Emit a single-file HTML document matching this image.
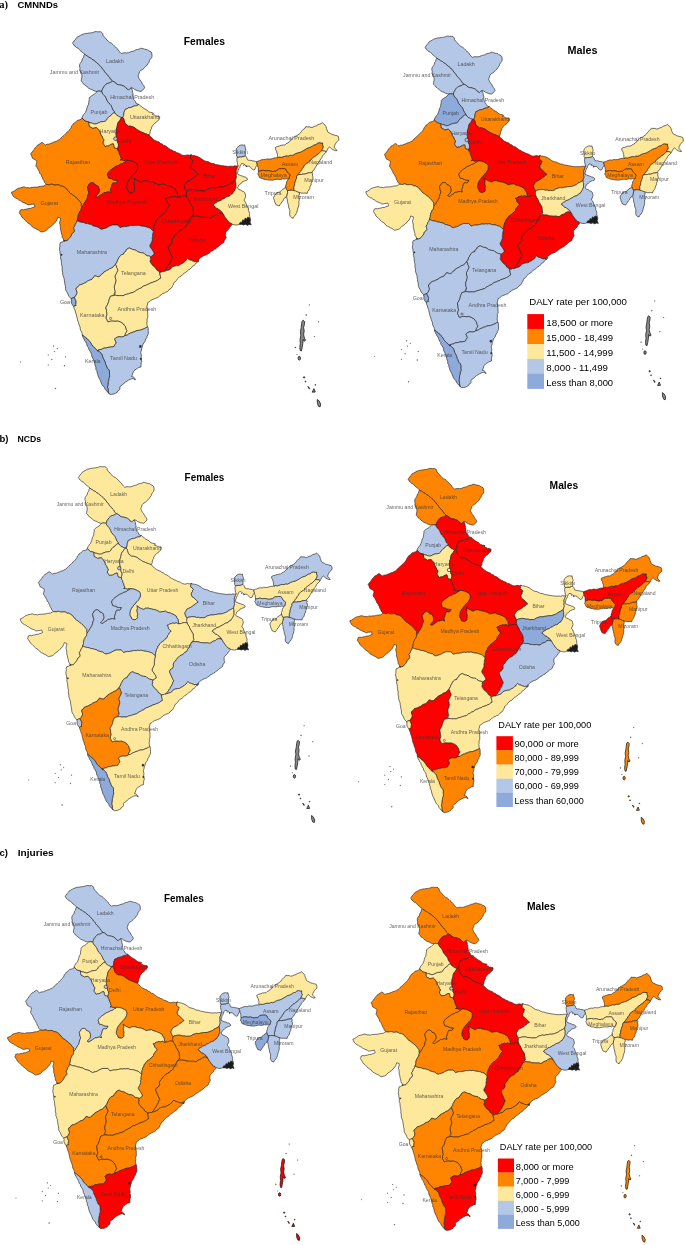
<!DOCTYPE html>
<html lang="en"><head><meta charset="utf-8"><title>DALY rate per 100,000 by state of India</title>
<style>html,body{margin:0;padding:0;background:#fff}svg{display:block}text{font-family:"Liberation Sans","DejaVu Sans",sans-serif}.lb{font-size:5.4px;fill:#383838;fill-opacity:.78}.st{stroke:#262626;stroke-width:.68;stroke-linejoin:round}.hd{font-size:9.5px;font-weight:700;fill:#000}.tt{font-size:11px;font-weight:700;fill:#000}.lg{font-size:9.3px;fill:#000}</style></head><body>
<svg width="685" height="1245" viewBox="0 0 685 1245">
<rect width="685" height="1245" fill="#fff"/>
<defs>
<path id="s-Ladakh" d="M84.8 54.2 L83.4 53.2 L82.1 52.1 L80.0 50.4 L79.0 49.1 L78.0 48.1 L76.3 47.6 L75.0 46.0 L73.9 45.4 L73.4 44.0 L72.4 43.2 L73.3 42.1 L74.7 40.0 L76.0 38.8 L76.8 37.4 L78.1 36.7 L80.3 35.5 L81.9 34.5 L83.9 34.0 L85.3 33.5 L87.2 33.4 L89.2 33.0 L90.7 32.9 L92.6 32.6 L94.9 31.7 L96.5 31.6 L97.9 31.9 L100.4 31.7 L101.6 32.3 L102.6 33.4 L103.0 35.3 L103.8 36.7 L104.7 37.4 L105.9 38.5 L106.9 40.0 L108.2 41.1 L109.7 42.5 L111.3 43.0 L112.9 44.5 L114.2 45.8 L115.5 46.9 L116.6 48.3 L118.2 49.6 L118.7 50.9 L120.0 52.2 L121.3 53.5 L122.9 53.0 L124.9 52.8 L126.4 53.0 L128.6 52.7 L130.3 51.9 L131.8 51.5 L134.1 50.9 L135.9 49.8 L137.4 49.5 L139.0 49.2 L140.6 48.3 L141.8 48.4 L143.5 48.8 L144.6 49.2 L146.1 49.5 L147.6 49.8 L148.4 50.6 L150.0 51.3 L151.2 52.0 L151.7 53.1 L152.0 55.1 L152.0 56.4 L151.6 57.8 L150.4 59.1 L149.4 60.7 L149.1 62.2 L147.8 63.7 L147.1 65.2 L145.6 66.4 L144.7 67.3 L143.9 68.4 L142.5 69.5 L140.5 70.6 L139.6 71.7 L139.0 73.5 L138.6 74.5 L138.1 76.1 L138.9 78.2 L140.0 80.0 L141.0 81.2 L142.1 83.2 L142.8 84.5 L143.8 85.6 L144.7 87.8 L143.5 89.1 L142.5 90.3 L141.0 91.4 L139.6 91.2 L137.7 90.8 L135.9 90.0 L134.6 89.5 L133.4 88.4 L131.5 87.8 L130.0 88.6 L128.6 90.0 L126.8 88.9 L125.4 87.1 L124.2 86.3 L123.1 85.8 L121.5 85.3 L119.7 84.8 L118.4 84.8 L116.4 84.0 L115.9 83.1 L114.0 81.8 L112.5 81.2 L111.2 79.9 L110.3 79.0 L109.6 77.4 L108.2 76.1 L107.2 74.6 L105.9 73.5 L104.6 71.8 L103.8 70.3 L102.3 69.1 L101.5 67.3 L99.6 65.7 L98.7 64.4 L97.0 63.1 L96.4 62.4 L94.5 61.1 L93.6 60.0 L92.0 59.4 L90.5 57.9 L88.5 57.1 L87.6 56.3 L85.6 55.2 L84.8 54.2Z"/>
<path id="s-JK" d="M84.8 54.2 L83.9 55.5 L83.5 57.7 L82.4 58.7 L81.9 60.8 L81.5 61.8 L80.2 63.4 L79.7 64.4 L79.5 66.3 L80.0 68.4 L79.7 70.3 L80.4 71.5 L81.3 73.4 L81.9 75.4 L81.8 77.4 L81.3 79.6 L81.2 81.2 L82.6 82.6 L83.3 83.9 L84.8 84.8 L85.9 85.9 L87.8 87.4 L88.7 88.2 L90.7 89.2 L92.0 89.6 L93.9 90.7 L95.9 91.3 L97.2 91.4 L98.9 91.0 L100.0 91.2 L101.6 91.4 L102.3 89.8 L102.8 88.4 L103.8 87.0 L104.5 85.8 L106.1 84.2 L107.5 83.4 L109.3 83.0 L110.7 82.3 L112.5 81.2 L111.2 79.9 L110.3 79.0 L109.6 77.4 L108.2 76.1 L107.2 74.6 L105.9 73.5 L104.6 71.8 L103.8 70.3 L102.3 69.1 L101.5 67.3 L99.6 65.7 L98.7 64.4 L97.0 63.1 L96.4 62.4 L94.5 61.1 L93.6 60.0 L92.0 59.4 L90.5 57.9 L88.5 57.1 L87.6 56.3 L85.6 55.2 L84.8 54.2Z"/>
<path id="s-HP" d="M112.5 81.2 L114.0 81.8 L115.9 83.1 L116.4 84.0 L118.4 84.8 L119.7 84.8 L121.5 85.3 L123.1 85.8 L124.2 86.3 L125.4 87.1 L126.8 88.9 L128.6 90.0 L130.0 88.6 L131.5 87.8 L131.7 89.0 L132.4 90.6 L132.5 92.2 L133.0 93.6 L133.1 95.9 L133.3 97.0 L133.7 99.5 L134.7 100.6 L135.6 101.9 L135.9 103.1 L137.4 103.9 L138.8 104.4 L137.5 104.6 L135.9 105.8 L134.2 106.0 L133.3 106.4 L131.8 107.2 L130.1 107.6 L128.6 107.7 L127.0 108.8 L125.0 109.5 L124.7 110.6 L123.9 112.7 L123.9 113.9 L123.7 115.4 L122.8 117.5 L121.0 117.5 L119.6 116.8 L118.4 116.3 L116.9 115.2 L115.7 114.3 L114.7 112.8 L114.2 111.2 L113.1 110.3 L112.3 108.7 L111.8 107.3 L111.0 105.5 L109.8 104.3 L108.9 102.9 L107.3 101.4 L106.7 100.0 L106.2 98.6 L105.5 97.2 L104.5 95.8 L103.3 94.6 L102.3 93.2 L101.6 91.4 L102.3 89.8 L102.8 88.4 L103.8 87.0 L104.5 85.8 L106.1 84.2 L107.5 83.4 L109.3 83.0 L110.7 82.3 L112.5 81.2Z"/>
<path id="s-Punjab" d="M97.2 91.4 L96.1 92.4 L94.3 94.3 L92.8 95.1 L91.8 95.7 L90.3 96.8 L89.2 98.0 L89.3 99.4 L89.0 100.9 L88.7 102.8 L88.5 104.6 L87.5 106.0 L87.0 107.8 L86.8 109.0 L86.0 111.0 L85.5 112.4 L84.4 113.6 L83.5 114.7 L82.6 116.3 L81.9 118.1 L83.2 119.0 L84.1 120.2 L85.0 121.0 L87.2 121.6 L88.5 121.9 L90.3 122.9 L91.6 123.0 L93.7 123.8 L95.0 124.1 L96.7 123.8 L98.2 122.9 L99.4 122.6 L100.6 121.9 L102.0 121.7 L103.7 121.5 L105.3 121.2 L106.8 119.8 L107.4 118.5 L108.9 116.8 L110.8 115.7 L111.5 114.5 L113.3 113.1 L114.7 112.8 L114.2 111.2 L113.1 110.3 L112.3 108.7 L111.8 107.3 L111.0 105.5 L109.8 104.3 L108.9 102.9 L107.3 101.4 L106.7 100.0 L106.2 98.6 L105.5 97.2 L104.5 95.8 L103.3 94.6 L102.3 93.2 L101.6 91.4 L100.0 91.2 L98.9 91.0 L97.2 91.4Z"/>
<path id="s-Haryana" d="M88.5 121.9 L88.8 123.1 L88.8 124.8 L89.2 126.3 L90.1 127.0 L91.7 127.6 L92.8 128.5 L94.4 128.0 L96.5 127.7 L97.6 128.6 L98.9 130.3 L99.4 131.4 L100.2 132.4 L100.7 134.2 L101.6 135.8 L102.3 136.8 L102.8 138.6 L103.8 139.4 L103.7 140.9 L103.0 142.1 L103.1 143.8 L104.0 144.8 L105.3 146.7 L106.6 146.1 L108.2 146.1 L109.6 145.3 L111.3 144.3 L113.3 143.8 L113.8 145.4 L113.9 146.6 L114.7 148.2 L116.0 148.5 L117.7 148.9 L118.3 146.9 L118.4 145.8 L118.4 143.8 L117.4 142.2 L117.2 140.7 L116.9 139.4 L116.7 138.1 L116.4 136.4 L116.2 135.0 L115.9 133.3 L116.2 130.9 L116.2 129.2 L116.9 127.7 L117.2 126.2 L117.4 125.1 L117.7 123.4 L118.8 121.6 L119.7 120.7 L120.6 119.0 L121.3 118.0 L122.8 117.5 L121.0 117.5 L119.6 116.8 L118.4 116.3 L116.9 115.2 L115.7 114.3 L114.7 112.8 L113.3 113.1 L111.5 114.5 L110.8 115.7 L108.9 116.8 L107.4 118.5 L106.8 119.8 L105.3 121.2 L103.7 121.5 L102.0 121.7 L100.6 121.9 L99.4 122.6 L98.2 122.9 L96.7 123.8 L95.0 124.1 L93.7 123.8 L91.6 123.0 L90.3 122.9 L88.5 121.9Z"/>
<path id="s-UK" d="M138.8 104.4 L140.1 105.6 L141.8 106.9 L143.2 108.0 L144.9 109.0 L146.6 109.8 L147.6 111.0 L148.7 111.8 L150.4 112.4 L152.0 112.7 L153.4 113.1 L152.4 114.6 L154.4 115.0 L155.8 116.0 L157.5 116.2 L159.7 116.8 L159.6 118.2 L159.0 119.7 L157.8 120.5 L156.0 122.6 L154.6 123.4 L153.3 124.6 L152.7 125.6 L151.7 127.0 L151.5 128.6 L150.8 129.6 L150.2 131.4 L150.1 133.0 L149.1 135.0 L147.3 134.4 L146.0 133.9 L144.6 133.4 L143.2 132.8 L141.4 132.0 L140.2 131.7 L138.8 130.6 L137.4 129.9 L136.2 129.0 L134.4 127.5 L133.0 127.0 L131.7 126.5 L130.0 126.1 L128.6 126.3 L127.1 125.1 L125.7 124.1 L124.6 122.3 L124.2 120.4 L123.7 118.8 L122.8 117.5 L123.7 115.4 L123.9 113.9 L123.9 112.7 L124.7 110.6 L125.0 109.5 L127.0 108.8 L128.6 107.7 L130.1 107.6 L131.8 107.2 L133.3 106.4 L134.2 106.0 L135.9 105.8 L137.4 105.5 L138.8 104.4Z"/>
<path id="s-UP" d="M122.8 117.5 L123.7 118.8 L124.2 120.4 L124.6 122.3 L125.7 124.1 L127.1 125.1 L128.6 126.3 L130.0 126.1 L131.7 126.5 L133.0 127.0 L134.4 127.5 L136.2 129.0 L137.4 129.9 L138.8 130.6 L140.2 131.7 L141.4 132.0 L143.2 132.8 L144.6 133.4 L146.0 133.9 L147.3 134.4 L149.1 135.0 L150.0 136.3 L151.7 137.6 L153.3 139.4 L154.6 140.2 L155.8 140.7 L157.4 141.5 L159.1 142.0 L160.2 143.4 L161.9 143.8 L163.7 145.4 L165.4 145.8 L167.0 147.0 L168.5 148.2 L170.3 149.5 L171.7 149.9 L173.2 151.0 L175.3 151.6 L176.5 152.6 L178.7 153.2 L179.9 153.7 L181.7 154.9 L183.8 155.5 L185.3 155.4 L187.1 154.9 L189.4 155.3 L191.1 154.7 L190.7 156.2 L190.4 158.4 L191.7 159.4 L192.5 160.0 L193.3 161.3 L192.3 162.2 L192.3 163.6 L191.1 165.0 L191.2 167.2 L191.8 168.6 L192.9 169.2 L194.0 170.2 L195.5 171.5 L196.5 172.6 L197.5 173.7 L198.4 174.4 L196.6 175.4 L195.5 176.6 L193.9 177.5 L192.2 178.9 L191.1 179.6 L189.8 180.5 L188.2 181.1 L186.7 181.8 L185.9 183.1 L185.4 184.2 L184.5 185.4 L184.5 186.9 L185.3 189.1 L185.6 190.0 L186.7 191.2 L186.6 192.8 L187.1 195.0 L186.7 196.3 L185.3 196.2 L184.0 196.1 L182.3 196.3 L180.9 196.9 L179.3 197.1 L178.0 197.5 L177.8 196.3 L177.5 194.7 L177.1 192.8 L175.8 191.0 L175.3 189.3 L173.6 188.3 L171.9 187.2 L170.1 186.6 L169.0 186.0 L166.6 185.4 L165.0 184.8 L163.9 184.0 L162.7 184.3 L160.7 184.5 L159.1 185.0 L157.8 184.9 L156.1 183.7 L154.8 183.2 L152.6 182.3 L151.0 182.2 L149.6 181.8 L147.5 181.4 L146.4 180.9 L144.7 180.9 L143.0 181.0 L141.4 182.1 L140.1 182.0 L138.3 181.2 L136.6 180.3 L135.0 179.2 L134.0 178.3 L134.4 179.2 L134.5 180.3 L134.6 181.4 L134.0 183.0 L134.4 185.3 L134.9 186.7 L134.6 188.0 L134.5 189.7 L134.8 190.8 L133.3 192.5 L131.9 193.1 L129.7 192.8 L128.4 192.0 L128.0 190.3 L126.9 189.0 L126.6 187.9 L126.5 186.7 L127.0 184.6 L127.2 183.2 L128.2 181.2 L129.0 179.7 L130.0 179.0 L130.7 177.4 L132.3 176.3 L132.8 175.0 L134.2 173.9 L135.2 172.8 L136.0 171.6 L136.6 170.4 L137.4 169.1 L137.7 166.9 L137.6 165.4 L136.6 163.4 L134.4 162.4 L133.1 161.6 L131.1 160.9 L129.0 160.5 L127.2 160.4 L125.1 160.2 L124.0 160.7 L121.7 159.8 L120.2 160.1 L121.4 158.7 L120.5 156.7 L120.2 155.2 L119.4 153.9 L119.0 151.7 L118.2 150.7 L117.7 148.9 L117.9 147.4 L118.5 145.9 L118.4 143.8 L117.4 142.2 L117.2 140.7 L116.9 139.4 L116.7 138.1 L116.4 136.4 L116.2 135.0 L115.9 133.3 L116.2 130.9 L116.2 129.2 L116.9 127.7 L117.2 126.2 L117.4 125.1 L117.7 123.4 L118.8 121.6 L119.7 120.7 L120.6 119.0 L121.3 118.0 L122.8 117.5Z"/>
<path id="s-Bihar" d="M191.1 154.7 L192.5 155.4 L194.2 155.6 L195.4 155.9 L196.9 156.2 L198.3 156.9 L200.3 157.9 L201.7 159.0 L202.8 159.8 L204.3 160.7 L206.7 161.4 L208.0 161.6 L210.1 162.8 L211.9 163.5 L213.4 163.5 L215.6 164.4 L216.8 164.7 L218.8 165.0 L220.5 165.4 L222.7 165.7 L224.3 165.9 L225.5 166.1 L227.6 166.4 L229.7 166.3 L231.5 166.2 L232.9 166.4 L234.7 165.8 L236.3 166.0 L238.3 165.8 L237.4 167.2 L237.2 168.3 L236.3 170.2 L236.2 171.5 L236.4 173.2 L236.2 175.3 L236.6 176.8 L236.0 178.6 L235.4 180.5 L234.2 181.3 L232.7 182.2 L231.3 182.9 L229.7 183.8 L228.5 184.8 L227.2 185.4 L224.9 186.3 L223.4 186.8 L221.5 187.0 L219.2 187.1 L218.2 187.4 L215.9 187.6 L213.7 188.2 L211.7 187.9 L210.1 188.5 L208.7 188.8 L207.1 189.5 L205.6 190.6 L204.2 191.0 L201.9 190.9 L200.2 191.1 L198.4 190.5 L196.6 190.7 L194.8 190.0 L192.6 189.8 L191.2 189.9 L189.8 190.2 L187.9 190.6 L186.7 191.2 L186.0 190.1 L185.3 189.1 L184.5 186.9 L184.5 185.4 L185.4 184.2 L185.9 183.1 L186.7 181.8 L188.2 181.1 L189.8 180.5 L191.1 179.6 L192.2 178.9 L193.9 177.5 L195.5 176.6 L196.6 175.4 L198.4 174.4 L197.5 173.7 L196.5 172.6 L195.5 171.5 L194.0 170.2 L192.9 169.2 L191.8 168.6 L191.2 167.2 L191.1 165.0 L192.3 163.6 L192.3 162.2 L193.3 161.3 L192.5 160.0 L191.7 159.4 L190.4 158.4 L190.7 156.2 L191.1 154.7Z"/>
<path id="s-Jharkhand" d="M186.7 191.2 L186.3 193.1 L186.3 194.9 L186.7 196.3 L187.2 197.8 L188.8 200.2 L189.3 201.5 L189.8 202.9 L190.8 204.3 L191.7 205.9 L192.8 207.7 L193.0 209.0 L193.2 210.6 L193.3 212.2 L193.7 213.8 L192.9 215.1 L192.2 215.9 L191.1 217.3 L192.8 216.5 L194.0 216.0 L195.7 216.3 L197.2 216.2 L199.0 216.5 L200.5 217.2 L202.2 217.2 L203.2 217.4 L205.0 217.5 L207.0 217.4 L208.0 217.4 L210.0 218.0 L212.1 217.3 L213.0 216.1 L215.0 215.5 L216.4 215.0 L217.6 213.8 L219.6 213.0 L221.8 213.2 L223.3 214.0 L222.1 212.5 L221.2 211.9 L220.4 210.4 L219.1 209.7 L218.3 208.7 L216.7 208.2 L215.3 207.2 L214.6 206.1 L213.1 205.3 L214.0 204.0 L215.3 203.1 L216.5 202.7 L217.9 201.4 L219.6 200.9 L221.0 200.4 L222.2 199.3 L224.0 198.7 L225.5 197.6 L226.9 196.8 L228.4 196.5 L229.8 195.9 L231.0 194.3 L232.8 193.6 L233.2 192.6 L234.4 191.0 L235.0 189.9 L235.4 188.7 L236.0 187.3 L235.9 185.4 L236.0 183.9 L235.7 182.5 L235.4 180.5 L234.2 181.3 L232.7 182.2 L231.3 182.9 L229.7 183.8 L228.5 184.8 L227.2 185.4 L224.9 186.3 L223.4 186.8 L221.5 187.0 L219.2 187.1 L218.2 187.4 L215.9 187.6 L213.7 188.2 L211.7 187.9 L210.1 188.5 L208.7 188.8 L207.1 189.5 L205.6 190.6 L204.2 191.0 L201.9 190.9 L200.2 191.1 L198.4 190.5 L196.6 190.7 L194.8 190.0 L192.6 189.8 L191.2 189.9 L189.8 190.2 L187.9 190.6 L186.7 191.2Z"/>
<path id="s-Chh" d="M178.0 197.5 L176.8 197.0 L175.3 196.3 L173.2 197.0 L171.8 196.5 L170.1 197.2 L168.8 197.4 L167.1 198.7 L165.7 198.9 L166.7 200.2 L167.4 202.4 L168.5 203.8 L170.1 205.0 L169.0 206.2 L168.0 207.1 L167.4 208.5 L166.2 209.8 L166.0 211.2 L164.8 212.9 L163.2 213.9 L161.8 215.6 L160.4 216.4 L159.1 217.3 L158.3 218.2 L157.1 220.2 L156.1 220.8 L155.8 222.5 L154.6 224.5 L154.3 226.1 L153.7 227.5 L153.6 229.7 L153.4 231.3 L153.1 232.6 L152.5 234.7 L152.6 236.6 L152.1 238.0 L152.4 239.8 L151.7 241.8 L151.2 243.0 L150.0 245.0 L149.9 246.2 L150.6 247.8 L151.8 249.2 L152.6 250.6 L153.6 252.1 L154.3 254.1 L152.8 255.1 L152.3 255.8 L150.8 256.7 L150.2 258.1 L150.6 259.5 L149.9 261.1 L150.6 262.7 L151.7 264.3 L152.6 265.5 L153.9 266.6 L155.3 267.7 L156.1 269.0 L157.0 270.3 L158.8 271.2 L159.6 272.5 L160.8 272.0 L162.6 272.1 L163.9 271.6 L165.4 270.1 L166.6 268.7 L167.4 267.2 L168.7 265.7 L169.4 264.0 L170.1 262.9 L171.3 260.8 L171.4 259.6 L172.7 257.6 L171.8 256.0 L171.0 254.1 L170.1 252.3 L169.5 250.8 L168.6 248.9 L168.3 247.1 L169.4 245.5 L170.9 244.8 L171.8 243.6 L172.4 242.0 L172.2 240.1 L172.7 238.3 L174.4 236.7 L175.4 235.1 L176.2 233.9 L177.3 233.0 L179.1 231.1 L180.6 230.4 L182.3 229.7 L182.8 228.8 L184.6 227.3 L185.8 226.9 L186.7 225.7 L187.3 224.2 L188.5 222.6 L189.4 220.6 L190.3 219.5 L191.1 217.3 L192.2 215.9 L192.9 215.1 L193.7 213.8 L193.3 212.2 L193.2 210.6 L193.0 209.0 L192.8 207.7 L191.7 205.9 L190.8 204.3 L189.8 202.9 L189.3 201.5 L188.8 200.2 L187.2 197.8 L186.7 196.3 L185.3 196.2 L184.0 196.1 L182.3 196.3 L180.9 196.9 L179.3 197.1 L178.0 197.5Z"/>
<path id="s-Odisha" d="M163.9 271.6 L165.3 271.1 L167.8 270.3 L169.2 269.9 L170.7 269.0 L172.1 267.1 L173.6 266.4 L175.2 266.0 L176.8 265.6 L178.8 265.5 L180.0 264.6 L181.8 263.7 L183.2 262.9 L184.1 262.0 L185.8 260.8 L186.1 259.8 L187.6 258.5 L189.5 259.9 L191.4 260.3 L192.8 261.1 L195.0 261.6 L196.0 261.4 L198.1 262.0 L198.4 260.8 L198.5 259.8 L199.7 258.6 L200.8 257.4 L202.8 256.3 L204.8 255.3 L206.9 254.6 L208.1 253.7 L209.8 252.7 L210.6 251.5 L212.1 250.9 L213.4 250.2 L214.3 249.3 L216.0 248.7 L217.1 247.3 L218.6 246.6 L219.6 245.4 L221.2 244.1 L222.2 243.5 L223.9 242.3 L224.3 240.6 L225.5 238.7 L226.2 237.4 L225.5 235.8 L225.6 234.8 L225.5 233.0 L226.1 231.7 L227.7 230.1 L229.3 228.5 L229.8 227.2 L231.4 225.5 L232.0 224.2 L231.2 223.2 L229.6 222.8 L228.4 221.3 L227.2 220.0 L226.4 218.8 L225.5 217.7 L224.6 216.4 L224.1 215.3 L223.3 214.0 L221.2 213.1 L219.6 213.0 L217.6 213.8 L216.4 215.0 L215.0 215.5 L213.0 216.1 L212.1 217.3 L210.0 218.0 L208.0 217.4 L207.0 217.4 L205.0 217.5 L203.2 217.4 L202.2 217.2 L200.5 217.2 L199.0 216.5 L197.2 216.2 L195.7 216.3 L194.0 216.0 L192.8 216.5 L191.1 217.3 L190.3 219.5 L189.4 220.6 L188.5 222.6 L187.3 224.2 L186.7 225.7 L185.8 226.9 L184.6 227.3 L182.8 228.8 L182.3 229.7 L180.6 230.4 L179.1 231.1 L177.3 233.0 L176.2 233.9 L175.4 235.1 L174.4 236.7 L172.7 238.3 L172.2 240.1 L172.4 242.0 L171.8 243.6 L170.9 244.8 L169.4 245.5 L168.3 247.1 L168.6 248.9 L169.5 250.8 L170.1 252.3 L171.0 254.1 L171.8 256.0 L172.7 257.6 L171.4 259.6 L171.3 260.8 L170.1 262.9 L169.4 264.0 L168.7 265.7 L167.4 267.2 L166.6 268.7 L165.4 270.1 L163.9 271.6Z"/>
<path id="s-MP" d="M127.2 160.4 L126.0 161.6 L124.6 161.9 L123.7 162.8 L122.1 163.8 L120.3 164.1 L119.0 165.1 L117.5 165.7 L116.0 166.2 L114.4 167.4 L112.4 168.8 L111.0 169.8 L109.7 170.9 L108.6 172.2 L108.0 173.0 L107.4 174.4 L108.1 176.1 L108.5 178.0 L110.2 178.5 L111.6 178.7 L113.2 179.7 L114.8 180.1 L115.9 180.2 L117.9 180.3 L117.2 181.6 L116.7 182.6 L115.3 183.2 L114.2 182.9 L112.6 183.2 L111.8 185.3 L111.5 186.7 L110.8 188.9 L110.3 190.2 L110.9 191.6 L110.9 192.6 L108.8 191.9 L107.4 192.0 L105.4 192.7 L103.9 192.6 L102.9 193.7 L101.0 194.9 L99.9 195.6 L98.8 196.4 L97.5 197.2 L96.7 196.8 L95.7 196.1 L96.8 195.1 L97.7 194.2 L98.6 193.1 L99.0 192.1 L99.3 190.6 L99.2 189.1 L98.7 187.7 L98.0 186.1 L96.8 185.5 L95.1 185.0 L94.5 183.8 L92.8 182.6 L91.0 182.8 L89.3 183.8 L88.8 185.1 L87.5 186.7 L87.7 188.1 L88.1 190.2 L88.8 192.1 L88.7 193.7 L87.9 195.0 L87.5 197.2 L86.8 199.5 L85.8 200.7 L85.1 202.1 L84.0 203.7 L83.5 204.9 L82.7 205.8 L81.7 207.2 L81.3 208.4 L81.1 210.1 L79.7 211.7 L79.3 213.0 L78.4 214.3 L78.2 215.9 L77.9 217.1 L78.0 218.0 L77.6 219.2 L77.1 220.7 L79.0 221.6 L80.3 222.1 L82.3 222.4 L84.3 222.8 L85.6 223.5 L87.7 223.6 L89.3 224.2 L91.3 224.6 L93.1 225.9 L94.9 226.3 L96.3 226.8 L98.1 227.2 L99.8 228.5 L101.6 229.4 L102.9 228.9 L104.8 228.4 L106.9 227.7 L108.1 226.8 L109.9 226.0 L112.1 225.0 L113.6 225.0 L115.5 225.0 L117.4 225.0 L119.0 226.4 L120.0 227.7 L121.6 227.1 L122.8 226.9 L124.3 226.5 L125.7 226.7 L127.5 226.3 L128.9 226.1 L130.5 225.6 L132.0 225.5 L133.6 225.7 L135.0 225.2 L136.4 225.6 L137.9 225.3 L139.6 225.4 L141.2 226.1 L142.7 226.2 L144.9 226.5 L146.4 226.9 L148.1 227.6 L149.4 227.9 L150.8 228.7 L152.2 230.3 L153.4 231.3 L153.6 229.7 L153.7 227.5 L154.3 226.1 L154.6 224.5 L155.8 222.5 L156.1 220.8 L157.1 220.2 L158.3 218.2 L159.1 217.3 L160.4 216.4 L161.8 215.6 L163.2 213.9 L164.8 212.9 L166.0 211.2 L166.2 209.8 L167.4 208.5 L168.0 207.1 L169.0 206.2 L170.1 205.0 L168.5 203.8 L167.4 202.4 L166.7 200.2 L165.7 198.9 L167.1 198.7 L168.8 197.4 L170.1 197.2 L171.8 196.5 L173.2 197.0 L175.3 196.3 L176.8 197.0 L178.0 197.5 L177.8 196.3 L177.5 194.7 L177.1 192.8 L175.8 191.0 L175.3 189.3 L173.6 188.3 L171.9 187.2 L170.1 186.6 L169.0 186.0 L166.6 185.4 L165.0 184.8 L163.9 184.0 L162.7 184.3 L160.7 184.5 L159.1 185.0 L157.8 184.9 L156.1 183.7 L154.8 183.2 L152.6 182.3 L151.0 182.2 L149.6 181.8 L147.5 181.4 L146.4 180.9 L144.7 180.9 L143.0 181.0 L141.4 182.1 L140.1 182.0 L138.3 181.2 L136.6 180.3 L135.0 179.2 L134.0 178.3 L134.4 179.2 L134.5 180.3 L134.6 181.4 L134.0 183.0 L134.4 185.3 L134.9 186.7 L134.6 188.0 L134.5 189.7 L134.8 190.8 L133.3 192.5 L131.9 193.1 L129.7 192.8 L128.4 192.0 L128.0 190.3 L126.9 189.0 L126.6 187.9 L126.5 186.7 L127.0 184.6 L127.2 183.2 L128.2 181.2 L129.0 179.7 L130.0 179.0 L130.7 177.4 L132.3 176.3 L132.8 175.0 L134.2 173.9 L135.2 172.8 L136.0 171.6 L136.6 170.4 L137.4 169.1 L137.7 166.9 L137.6 165.4 L136.6 163.4 L134.4 162.4 L133.1 161.6 L131.1 160.9 L129.0 160.5 L127.2 160.4Z"/>
<path id="s-Raj" d="M81.5 119.1 L79.9 119.8 L78.2 120.2 L77.1 120.5 L75.8 121.8 L74.8 122.9 L73.3 123.7 L72.7 124.9 L71.7 125.8 L71.1 127.5 L70.3 128.7 L69.2 130.2 L68.0 131.5 L67.0 132.3 L65.7 133.6 L64.8 134.5 L64.0 135.4 L62.5 136.6 L61.3 137.6 L60.4 138.9 L59.1 139.9 L57.6 140.5 L56.1 141.5 L53.8 142.0 L52.9 142.6 L50.8 143.3 L49.5 144.0 L47.0 144.2 L45.5 145.0 L44.6 144.4 L43.6 143.4 L42.0 142.4 L40.8 143.1 L39.0 144.5 L37.7 145.0 L36.4 146.6 L35.1 147.9 L34.2 149.4 L32.9 151.1 L32.0 152.2 L30.7 153.8 L31.4 155.3 L31.9 156.7 L32.4 158.2 L34.0 159.1 L35.2 159.8 L36.8 160.8 L36.7 162.6 L36.1 164.7 L35.9 166.1 L36.9 167.4 L38.0 169.1 L38.5 170.4 L39.4 171.7 L39.8 173.4 L41.2 174.8 L41.8 176.6 L42.4 177.3 L42.9 179.2 L44.0 180.7 L44.3 182.1 L45.5 183.6 L46.4 184.4 L48.0 184.6 L49.5 184.8 L51.1 184.1 L52.6 184.4 L54.1 185.0 L55.7 185.0 L57.6 184.7 L59.6 185.3 L60.8 186.2 L62.6 186.2 L64.1 187.1 L65.7 188.0 L66.8 189.7 L68.1 190.6 L69.2 192.3 L70.7 193.7 L72.6 194.6 L73.6 195.8 L75.5 196.9 L76.8 198.4 L78.0 199.3 L79.2 200.8 L80.2 202.1 L81.5 203.7 L81.2 205.3 L81.7 207.2 L82.7 205.8 L83.5 204.9 L84.0 203.7 L85.1 202.1 L85.8 200.7 L86.8 199.5 L87.5 197.2 L87.9 195.0 L88.7 193.7 L88.8 192.1 L88.1 190.2 L87.7 188.1 L87.5 186.7 L88.8 185.1 L89.3 183.8 L91.0 182.8 L92.8 182.6 L94.5 183.8 L95.1 185.0 L96.8 185.5 L98.0 186.1 L98.7 187.7 L99.2 189.1 L99.3 190.6 L99.0 192.1 L98.6 193.1 L97.7 194.2 L96.8 195.1 L95.7 196.1 L96.7 196.8 L97.5 197.2 L98.8 196.4 L99.9 195.6 L101.0 194.9 L102.9 193.7 L103.9 192.6 L105.4 192.7 L107.4 192.0 L108.8 191.9 L110.9 192.6 L110.9 191.6 L110.3 190.2 L110.8 188.9 L111.5 186.7 L111.8 185.3 L112.6 183.2 L114.2 182.9 L115.3 183.2 L116.7 182.6 L117.2 181.6 L117.9 180.3 L115.9 180.2 L114.8 180.1 L113.2 179.7 L111.6 178.7 L110.2 178.5 L108.5 178.0 L108.1 176.1 L107.4 174.4 L108.0 173.0 L108.6 172.2 L109.7 170.9 L111.0 169.8 L112.4 168.8 L114.4 167.4 L116.0 166.2 L117.5 165.7 L119.0 165.1 L120.3 164.1 L122.1 163.8 L123.7 162.8 L124.6 161.9 L126.0 161.6 L127.2 160.4 L125.1 160.2 L124.0 160.7 L121.7 159.8 L120.2 160.1 L121.4 158.7 L120.5 156.7 L120.2 155.2 L119.4 153.9 L119.0 151.7 L118.2 150.7 L117.7 148.9 L116.0 148.2 L114.7 148.2 L113.9 146.6 L113.8 145.4 L113.3 143.8 L111.3 144.3 L109.6 145.3 L108.2 146.1 L106.6 146.1 L105.3 146.7 L104.0 144.8 L103.1 143.8 L103.0 142.1 L103.7 140.9 L103.8 139.4 L102.8 138.6 L102.3 136.8 L101.6 135.8 L100.7 134.2 L100.2 132.4 L99.4 131.4 L98.9 130.3 L97.6 128.6 L96.5 127.7 L94.4 128.0 L92.8 128.5 L91.7 127.6 L90.1 127.0 L89.2 126.3 L88.8 124.8 L88.8 123.1 L88.5 121.9 L87.2 121.6 L85.0 121.0 L84.1 120.2 L83.2 119.0 L81.9 118.1Z"/>
<path id="s-Gujarat" d="M46.4 184.4 L45.3 184.9 L43.8 185.9 L42.0 186.2 L40.2 186.4 L39.2 186.6 L37.5 187.1 L35.9 187.1 L34.3 187.3 L32.5 187.3 L31.1 187.4 L29.8 188.0 L27.6 187.6 L26.6 187.7 L24.2 186.9 L22.8 187.1 L20.7 187.8 L19.3 188.0 L17.4 188.7 L16.0 189.7 L14.9 190.6 L13.2 191.6 L11.4 192.3 L11.9 193.8 L12.7 195.2 L13.1 196.1 L14.5 197.2 L16.2 198.4 L17.5 198.8 L18.9 200.1 L20.4 200.6 L21.5 201.6 L22.8 202.3 L24.2 202.9 L26.8 204.0 L28.0 204.9 L29.9 204.7 L31.1 204.4 L32.7 204.2 L34.2 204.0 L34.5 205.1 L35.0 206.6 L33.3 207.4 L32.0 207.7 L30.7 208.4 L29.1 208.4 L26.8 209.1 L25.4 209.3 L23.3 209.9 L22.0 209.5 L20.1 210.2 L19.9 211.3 L19.3 212.8 L20.2 214.1 L21.3 215.7 L21.9 217.2 L23.2 218.4 L24.1 219.1 L25.3 220.3 L26.3 221.5 L27.6 222.8 L29.2 223.8 L30.3 224.4 L31.5 225.9 L32.5 227.0 L33.8 227.8 L35.5 228.6 L36.8 229.4 L38.5 230.1 L40.1 231.3 L41.2 232.0 L43.3 231.5 L45.1 231.1 L46.4 230.3 L47.6 229.2 L48.7 227.8 L50.2 227.0 L51.7 225.9 L52.9 224.5 L54.0 223.8 L54.8 222.4 L56.1 221.5 L56.8 219.9 L57.3 218.9 L57.8 217.2 L59.3 217.7 L60.4 218.0 L60.4 220.1 L59.8 221.7 L59.6 223.3 L60.1 224.4 L60.4 226.5 L60.4 227.7 L60.4 229.4 L61.0 230.8 L61.3 232.9 L61.7 234.3 L62.1 235.5 L62.2 237.3 L63.4 238.9 L63.9 240.8 L66.0 240.8 L67.5 240.4 L68.1 239.6 L69.2 238.3 L70.1 237.3 L71.3 235.7 L71.8 233.8 L73.3 232.8 L74.5 231.2 L74.1 229.2 L73.6 227.7 L75.0 225.7 L75.3 224.2 L76.5 222.7 L77.1 220.7 L77.6 219.2 L78.0 218.0 L77.9 217.1 L78.2 215.9 L78.4 214.3 L79.3 213.0 L79.7 211.7 L81.1 210.1 L81.3 208.4 L81.7 207.2 L81.2 205.3 L81.5 203.7 L80.2 202.1 L79.2 200.8 L78.0 199.3 L76.8 198.4 L75.5 196.9 L73.6 195.8 L72.6 194.6 L70.7 193.7 L69.2 192.3 L68.1 190.6 L66.8 189.7 L65.7 188.0 L64.1 187.1 L62.6 186.2 L60.8 186.2 L59.6 185.3 L57.6 184.7 L55.7 185.0 L54.1 185.0 L52.6 184.4 L51.1 184.1 L49.5 184.8 L48.0 184.6 L46.4 184.4Z"/>
<path id="s-Mah" d="M63.9 240.8 L62.0 242.2 L60.4 242.6 L59.8 244.7 L59.9 246.4 L59.6 247.8 L59.4 249.5 L60.0 251.6 L60.0 252.7 L60.4 254.8 L60.6 256.4 L60.5 258.0 L61.2 260.1 L61.3 261.8 L61.5 263.7 L61.7 265.4 L62.1 266.6 L62.2 268.8 L62.1 270.2 L62.7 272.4 L62.6 274.4 L63.1 275.8 L63.8 277.8 L64.2 278.9 L64.4 280.9 L64.8 282.9 L64.9 284.4 L65.4 286.1 L65.6 288.3 L65.7 289.9 L66.3 291.3 L67.5 293.1 L68.3 295.1 L69.2 296.6 L70.2 297.7 L71.0 298.6 L72.3 298.1 L74.5 297.2 L75.5 296.1 L76.7 293.9 L77.1 292.5 L76.7 291.0 L76.1 289.5 L76.2 288.1 L77.8 287.1 L78.8 285.5 L79.9 284.8 L82.1 284.3 L83.2 283.7 L84.8 282.9 L86.0 282.4 L87.6 281.1 L89.1 280.3 L90.6 279.9 L92.0 279.3 L92.7 278.0 L93.7 277.4 L94.6 275.8 L96.3 276.1 L97.3 276.7 L99.0 276.7 L100.8 275.3 L101.6 274.1 L103.1 273.4 L103.8 272.1 L105.1 271.5 L106.6 270.6 L108.0 270.0 L109.5 268.8 L111.8 268.0 L113.0 267.1 L114.2 265.3 L115.6 264.4 L116.0 263.2 L117.1 261.4 L117.5 260.2 L118.3 259.0 L119.0 257.5 L120.2 255.8 L121.4 254.8 L123.7 254.1 L124.3 252.3 L125.8 251.3 L126.3 249.7 L128.3 248.4 L129.8 248.0 L131.0 248.8 L132.7 249.5 L134.2 249.7 L136.2 250.5 L137.8 251.7 L139.4 252.3 L141.1 252.8 L142.5 252.8 L143.8 253.2 L144.8 254.2 L145.8 254.9 L147.3 255.8 L149.1 256.0 L150.8 256.7 L152.3 255.8 L152.8 255.1 L154.3 254.1 L153.6 252.1 L152.6 250.6 L151.8 249.2 L150.6 247.8 L149.9 246.2 L150.0 245.0 L151.2 243.0 L151.7 241.8 L152.4 239.8 L152.1 238.0 L152.6 236.6 L152.5 234.7 L153.1 232.6 L153.4 231.3 L152.2 230.3 L150.8 228.7 L149.4 227.9 L148.1 227.6 L146.4 226.9 L144.9 226.5 L142.7 226.2 L141.2 226.1 L139.6 225.4 L137.9 225.3 L136.4 225.6 L135.0 225.2 L133.6 225.7 L132.0 225.5 L130.5 225.6 L128.9 226.1 L127.5 226.3 L125.7 226.7 L124.3 226.5 L122.8 226.9 L121.6 227.1 L120.0 227.7 L119.0 226.4 L117.4 225.0 L115.5 225.0 L113.6 225.0 L112.1 225.0 L109.9 226.0 L108.1 226.8 L106.9 227.7 L104.8 228.4 L102.9 228.9 L101.6 229.4 L99.8 228.5 L98.1 227.2 L96.3 226.8 L94.9 226.3 L93.1 225.9 L91.3 224.6 L89.3 224.2 L87.7 223.6 L85.6 223.5 L84.3 222.8 L82.3 222.4 L80.3 222.1 L79.0 221.6 L77.1 220.7 L76.5 222.7 L75.3 224.2 L75.0 225.7 L73.6 227.7 L74.1 229.2 L74.5 231.2 L73.3 232.8 L71.8 233.8 L71.3 235.7 L70.1 237.3 L69.2 238.3 L68.1 239.6 L67.5 240.4 L66.0 240.8 L63.9 240.8Z"/>
<path id="s-Goa" d="M71.0 298.6 L71.4 300.2 L71.2 302.1 L71.8 303.9 L72.4 304.9 L73.6 306.5 L75.1 305.7 L76.2 305.6 L75.8 304.4 L76.1 302.4 L76.2 301.2 L75.4 299.7 L74.9 298.4 L74.5 297.2 L72.3 298.1 L71.0 298.6Z"/>
<path id="s-Kar" d="M73.7 306.4 L74.1 308.3 L75.0 310.1 L75.4 312.0 L76.2 313.9 L76.4 314.8 L76.7 316.3 L77.2 318.2 L77.5 319.9 L78.0 321.3 L78.5 322.5 L78.9 324.3 L79.7 326.0 L80.1 327.3 L80.2 328.8 L80.7 330.4 L81.6 332.1 L82.2 333.6 L82.4 334.8 L83.2 335.9 L84.2 336.6 L85.7 337.4 L86.6 338.7 L87.7 339.2 L89.0 340.8 L90.1 341.9 L91.2 343.6 L91.8 344.9 L93.7 346.9 L94.7 348.0 L95.9 348.9 L96.8 350.2 L98.2 351.5 L98.0 350.1 L99.1 349.8 L100.9 349.4 L102.1 349.1 L104.0 348.0 L105.3 348.0 L106.5 347.9 L108.0 347.3 L109.6 347.2 L111.2 347.0 L112.8 346.8 L114.0 346.5 L114.7 345.0 L115.4 344.1 L116.2 342.9 L115.6 341.1 L114.7 339.2 L115.7 338.0 L117.7 337.0 L119.7 336.7 L121.3 337.0 L123.1 336.7 L125.0 335.6 L125.4 333.6 L126.2 332.5 L127.1 330.4 L126.2 329.2 L125.9 327.9 L125.3 326.1 L124.2 325.1 L123.2 323.6 L121.8 322.6 L120.4 321.8 L118.8 321.3 L117.5 320.8 L115.7 321.1 L114.1 321.0 L112.2 320.8 L110.8 320.9 L109.1 321.6 L107.8 321.7 L107.0 319.8 L106.1 318.2 L106.4 316.1 L107.0 314.4 L106.9 312.9 L106.5 311.8 L106.5 310.2 L105.9 308.0 L106.1 306.8 L107.4 304.9 L107.9 303.8 L108.7 301.5 L109.2 299.4 L110.0 297.7 L110.4 296.3 L112.0 295.9 L113.9 295.4 L114.0 294.0 L114.4 292.8 L115.3 291.3 L114.7 289.7 L114.4 287.8 L114.4 286.1 L115.1 284.4 L115.5 282.9 L116.1 280.8 L115.9 279.4 L115.2 277.2 L115.3 275.6 L116.4 273.6 L117.0 272.3 L117.9 270.3 L117.5 268.7 L116.8 267.7 L116.3 265.6 L115.6 264.5 L114.1 266.1 L113.0 267.1 L111.8 268.0 L109.5 268.8 L108.0 270.0 L106.6 270.6 L105.1 271.5 L103.8 272.1 L103.1 273.4 L101.6 274.1 L100.8 275.3 L99.0 276.7 L97.3 276.7 L96.3 276.1 L94.6 275.8 L93.7 277.4 L92.7 278.0 L92.0 279.3 L90.6 279.9 L89.1 280.3 L87.6 281.1 L86.0 282.4 L84.8 282.9 L83.2 283.7 L82.1 284.3 L79.9 284.8 L78.8 285.5 L77.8 287.1 L76.2 288.1 L76.1 289.5 L76.7 291.0 L77.1 292.5 L76.7 293.9 L75.5 296.1 L74.5 297.2 L74.9 298.4 L75.4 299.7 L76.2 301.2 L76.1 302.4 L75.8 304.4 L76.2 305.6 L75.1 305.7 L73.6 306.5Z"/>
<path id="s-Tel" d="M115.6 264.4 L116.3 263.2 L117.3 261.6 L117.5 260.2 L118.3 259.0 L119.0 257.5 L120.2 255.8 L121.4 254.8 L123.7 254.1 L124.3 252.3 L125.8 251.3 L126.3 249.7 L128.3 248.4 L129.8 248.0 L131.0 248.8 L132.7 249.5 L134.2 249.7 L136.2 250.5 L137.8 251.7 L139.4 252.3 L141.1 252.8 L142.5 252.8 L143.8 253.2 L144.8 254.2 L145.8 254.9 L147.3 255.8 L149.1 256.0 L150.8 256.7 L150.2 258.1 L150.6 259.5 L149.9 261.1 L150.6 262.7 L151.7 264.3 L152.6 265.5 L153.9 266.6 L155.3 267.7 L156.1 269.0 L157.0 270.3 L158.8 271.2 L159.6 272.5 L159.8 274.6 L160.6 276.1 L160.8 278.2 L159.2 279.0 L157.7 280.3 L156.4 280.8 L155.1 281.5 L153.6 282.0 L152.0 282.6 L150.4 282.9 L149.4 284.0 L147.7 284.3 L146.1 285.3 L144.0 285.8 L142.4 286.9 L140.8 288.2 L139.2 288.6 L138.0 289.6 L136.2 290.3 L135.2 291.2 L133.7 292.2 L132.0 292.7 L129.7 293.3 L128.4 293.9 L126.5 294.3 L125.2 294.7 L123.1 295.7 L121.4 295.6 L119.6 295.6 L117.9 295.7 L115.7 295.3 L114.4 295.7 L114.7 294.0 L115.2 293.0 L115.3 291.3 L114.7 289.7 L114.4 287.8 L114.4 286.1 L115.1 284.4 L115.5 282.9 L116.1 280.8 L115.9 279.4 L115.2 277.2 L115.3 275.6 L116.4 273.6 L117.0 272.3 L117.9 270.3 L117.5 268.7 L116.8 267.7 L116.3 265.6 L115.6 264.5Z"/>
<path id="s-AP" d="M198.5 259.8 L197.4 260.5 L196.9 262.5 L195.8 263.3 L195.2 264.4 L194.0 265.5 L192.6 266.1 L191.5 267.7 L190.2 269.1 L188.8 269.6 L187.1 271.2 L185.3 272.6 L184.2 273.0 L182.7 274.7 L181.4 276.0 L179.6 276.7 L178.3 278.2 L177.1 279.3 L176.3 280.6 L175.4 281.6 L173.9 282.6 L173.6 284.3 L172.6 285.6 L172.2 286.9 L171.0 288.5 L169.5 289.2 L168.7 290.4 L167.1 291.8 L165.5 292.3 L164.3 293.1 L162.3 293.8 L161.3 294.7 L159.9 295.7 L158.6 296.9 L157.3 297.7 L155.6 298.3 L153.9 299.0 L152.7 299.4 L151.2 300.1 L150.3 301.0 L149.1 301.9 L147.7 302.7 L147.6 304.0 L147.1 305.9 L146.8 307.1 L147.4 309.2 L147.3 310.2 L147.7 312.3 L147.7 314.3 L147.8 315.7 L147.7 317.6 L147.0 319.1 L147.2 321.2 L146.8 322.9 L147.1 324.7 L147.2 326.1 L147.7 327.2 L146.5 327.7 L145.0 328.2 L143.2 329.0 L141.2 329.9 L139.8 330.3 L138.1 330.4 L136.0 330.9 L134.6 331.8 L133.0 331.9 L132.0 332.7 L130.4 333.1 L128.6 334.1 L127.4 335.0 L125.0 335.6 L125.4 333.6 L126.2 332.5 L127.1 330.4 L126.2 329.2 L125.9 327.9 L125.3 326.1 L124.2 325.1 L123.2 323.6 L121.8 322.6 L120.4 321.8 L118.8 321.3 L117.5 320.8 L115.7 321.1 L114.1 321.0 L112.2 320.8 L110.8 320.9 L109.1 321.6 L107.8 321.7 L107.0 319.8 L106.1 318.2 L106.4 316.1 L107.0 314.4 L106.9 312.9 L106.5 311.8 L106.5 310.2 L105.9 308.0 L106.1 306.8 L107.4 304.9 L107.9 303.8 L108.7 301.5 L109.2 299.4 L110.0 297.7 L110.4 296.3 L112.0 295.9 L113.9 295.4 L115.6 295.2 L117.9 295.7 L119.6 295.6 L121.4 295.6 L123.1 295.7 L125.2 294.7 L126.5 294.3 L128.4 293.9 L129.7 293.3 L132.0 292.7 L133.7 292.2 L135.2 291.2 L136.2 290.3 L138.0 289.6 L139.2 288.6 L140.8 288.2 L142.4 286.9 L144.0 285.8 L146.1 285.3 L147.7 284.3 L149.4 284.0 L150.4 282.9 L152.0 282.6 L153.6 282.0 L155.1 281.5 L156.4 280.8 L157.7 280.3 L159.2 279.0 L160.8 278.2 L160.4 276.3 L160.0 274.0 L159.6 272.4 L161.3 272.2 L162.6 271.5 L163.9 271.6 L165.3 271.1 L167.8 270.3 L169.2 269.9 L170.7 269.0 L172.1 267.1 L173.6 266.4 L175.2 266.0 L176.8 265.6 L178.8 265.5 L180.0 264.6 L181.8 263.7 L183.2 262.9 L184.1 262.0 L185.8 260.8 L186.1 259.8 L187.6 258.5 L189.5 259.9 L191.4 260.3 L192.8 261.1 L195.0 261.6 L196.0 261.4 L198.1 262.0 L198.4 260.8Z"/>
<path id="s-Kerala" d="M82.3 334.8 L82.5 336.1 L83.1 337.6 L84.1 339.2 L84.5 340.5 L85.8 342.0 L86.4 343.6 L87.0 345.0 L87.4 346.4 L88.5 347.6 L89.0 349.8 L89.9 350.9 L91.1 353.0 L91.6 354.6 L91.7 356.0 L92.8 358.2 L93.5 360.0 L94.3 361.9 L94.9 363.9 L95.0 365.5 L95.9 367.1 L95.9 369.6 L96.8 370.5 L97.2 372.8 L97.7 374.6 L98.5 377.0 L99.1 378.1 L100.2 380.1 L100.5 381.3 L101.3 383.0 L101.9 384.5 L103.1 385.9 L104.3 387.2 L105.1 389.3 L106.0 390.3 L106.6 391.2 L108.0 392.1 L108.9 393.5 L108.2 391.8 L108.1 390.1 L108.0 388.6 L107.5 387.4 L107.8 385.8 L108.1 383.1 L108.2 381.5 L108.7 380.3 L108.8 378.4 L109.5 377.2 L109.6 375.7 L109.4 374.1 L109.5 371.5 L108.9 369.9 L107.5 368.4 L106.7 366.9 L106.3 365.4 L105.6 364.4 L105.3 362.6 L104.5 360.8 L103.7 359.3 L103.1 358.2 L102.6 356.5 L102.2 355.1 L101.6 353.8 L100.0 352.6 L99.3 351.8 L98.0 350.1 L98.2 351.5 L96.8 350.2 L95.9 348.9 L94.7 348.0 L93.7 346.9 L91.8 344.9 L91.2 343.6 L90.1 341.9 L89.0 340.8 L87.7 339.2 L86.6 338.7 L85.7 337.4 L84.2 336.6 L83.2 335.9 L82.4 334.8Z"/>
<path id="s-TN" d="M108.9 393.5 L110.4 394.4 L111.9 394.3 L113.8 394.0 L115.5 393.2 L117.2 392.3 L117.6 391.1 L119.1 390.3 L119.9 389.1 L119.9 386.9 L120.6 385.9 L122.0 385.1 L123.4 384.1 L124.2 383.0 L125.3 382.1 L126.8 381.3 L128.6 380.1 L130.3 379.3 L131.6 378.8 L133.0 378.6 L134.4 379.1 L135.2 380.1 L135.2 379.0 L134.4 377.9 L133.2 376.9 L131.5 376.4 L132.4 374.7 L132.9 372.9 L133.7 371.3 L134.9 369.9 L136.0 369.2 L137.4 368.4 L138.6 367.5 L141.0 366.9 L141.0 364.6 L141.2 362.8 L141.8 361.1 L141.5 359.7 L141.1 357.2 L141.4 355.2 L141.0 353.8 L140.8 352.2 L141.5 350.0 L141.8 348.0 L142.4 346.6 L143.0 344.1 L143.9 342.9 L144.9 341.6 L145.8 338.9 L146.9 337.7 L147.0 336.3 L147.9 334.9 L148.3 333.7 L148.3 331.9 L148.2 330.1 L148.2 328.4 L147.6 326.8 L146.0 327.6 L144.6 328.6 L143.2 329.0 L141.2 329.9 L139.8 330.3 L138.1 330.4 L136.0 330.9 L134.6 331.8 L133.0 331.9 L132.0 332.7 L130.4 333.1 L128.6 334.1 L127.4 335.0 L125.0 335.6 L123.1 336.7 L121.3 337.0 L119.7 336.7 L117.7 337.0 L115.7 338.0 L114.7 339.2 L115.6 341.1 L116.2 342.9 L115.4 344.1 L114.7 345.0 L114.0 346.5 L112.8 346.8 L111.2 347.0 L109.6 347.2 L108.0 347.3 L106.5 347.9 L105.3 348.0 L104.0 348.0 L102.1 349.1 L100.9 349.4 L99.1 349.8 L98.0 350.1 L99.3 351.8 L100.0 352.6 L101.6 353.8 L102.2 355.1 L102.6 356.5 L103.1 358.2 L103.7 359.3 L104.5 360.8 L105.3 362.6 L105.6 364.4 L106.3 365.4 L106.7 366.9 L107.5 368.4 L108.9 369.9 L109.5 371.5 L109.4 374.1 L109.6 375.7 L109.5 377.2 L108.8 378.4 L108.7 380.3 L108.2 381.5 L108.1 383.1 L107.8 385.8 L107.5 387.4 L108.0 388.6 L108.1 390.1 L108.2 391.8 L108.9 393.5Z"/>
<path id="s-WB" d="M238.3 165.8 L237.7 164.4 L237.3 162.7 L237.0 160.8 L236.9 158.9 L237.3 157.1 L238.7 157.1 L240.4 156.8 L241.9 156.8 L243.9 156.2 L245.2 155.8 L246.5 157.2 L247.0 158.5 L247.4 159.7 L249.2 160.4 L250.9 160.3 L252.0 160.8 L254.0 161.0 L255.3 161.4 L256.8 161.7 L256.6 162.7 L257.3 164.1 L256.8 165.5 L256.2 166.3 L255.6 167.5 L254.9 169.3 L253.6 169.9 L252.2 169.1 L251.4 168.5 L250.7 167.5 L249.6 166.3 L248.1 166.1 L247.0 166.3 L246.2 165.9 L245.2 165.0 L243.9 164.0 L242.6 163.5 L241.5 163.6 L240.8 164.5 L240.0 166.3 L239.8 167.4 L238.7 168.9 L238.2 170.4 L237.6 172.4 L237.6 173.8 L238.0 174.6 L239.5 175.0 L240.4 175.5 L242.5 176.1 L243.9 176.8 L245.4 177.1 L247.0 178.1 L247.6 179.6 L246.7 180.3 L245.2 180.7 L243.8 181.3 L242.2 181.9 L241.6 182.9 L240.8 183.8 L239.5 184.4 L238.7 185.1 L238.4 186.5 L237.6 187.3 L238.0 188.5 L238.7 189.5 L240.5 190.0 L242.2 191.2 L243.5 191.6 L244.8 192.6 L245.2 194.1 L245.7 196.1 L245.2 197.7 L244.8 198.7 L244.2 199.8 L244.3 200.9 L245.5 202.1 L246.1 203.9 L246.7 205.4 L247.8 207.4 L248.6 209.0 L248.4 210.5 L249.0 211.8 L249.6 213.5 L249.4 214.6 L249.6 216.2 L250.2 217.9 L249.7 219.4 L249.7 221.3 L248.8 223.1 L248.9 224.8 L247.2 225.0 L244.7 224.2 L243.1 224.2 L240.8 224.2 L239.3 224.2 L237.7 224.8 L236.6 225.0 L235.0 225.0 L233.2 224.4 L232.0 224.2 L231.2 223.2 L229.6 222.8 L228.4 221.3 L227.2 220.0 L226.4 218.8 L225.5 217.7 L224.6 216.4 L224.1 215.3 L223.3 214.0 L222.4 212.5 L221.4 211.1 L220.4 210.4 L219.1 209.7 L218.3 208.7 L216.7 208.2 L215.3 207.2 L214.6 206.1 L213.1 205.3 L214.0 204.0 L215.3 203.1 L216.5 202.7 L217.9 201.4 L219.6 200.9 L221.0 200.4 L222.2 199.3 L224.0 198.7 L225.5 197.6 L226.9 196.8 L228.4 196.5 L229.8 195.9 L231.0 194.3 L232.8 193.6 L233.2 192.6 L234.4 191.0 L235.0 189.9 L235.4 188.7 L236.0 187.3 L235.9 185.4 L236.0 183.9 L235.7 182.5 L235.4 180.5 L236.0 178.6 L236.6 176.8 L236.2 175.3 L236.4 173.2 L236.2 171.5 L236.3 170.2 L237.2 168.3 L237.4 167.2 L238.3 165.8Z"/>
<path id="s-Sikkim" d="M236.5 148.4 L237.7 147.3 L238.9 145.9 L240.3 145.2 L242.0 144.9 L243.5 145.2 L244.7 144.9 L245.1 147.2 L245.6 148.7 L245.8 150.1 L245.0 151.6 L245.2 153.1 L245.4 154.4 L245.2 155.8 L243.9 156.2 L241.9 156.8 L240.4 156.8 L238.7 157.1 L237.3 157.1 L236.5 155.7 L236.6 153.5 L236.2 151.8 L236.2 149.9Z"/>
<path id="s-Assam" d="M256.8 161.7 L258.4 160.9 L259.4 160.8 L261.2 159.9 L263.5 159.4 L265.5 159.6 L266.7 158.9 L269.1 159.1 L271.0 159.0 L272.6 158.5 L274.0 158.0 L275.7 157.8 L277.8 157.7 L279.2 157.0 L281.4 157.3 L282.9 156.8 L284.8 156.2 L286.3 155.8 L288.5 156.0 L290.1 155.2 L291.9 155.4 L293.6 154.8 L295.5 153.6 L297.3 152.9 L298.8 152.6 L300.2 152.2 L301.9 151.4 L303.3 150.6 L305.0 149.6 L306.6 148.5 L307.6 148.0 L309.4 147.5 L311.1 146.8 L312.5 145.9 L314.0 144.9 L315.8 144.6 L317.2 143.4 L319.0 142.6 L321.2 143.0 L322.7 142.9 L322.6 144.9 L323.4 146.8 L322.9 148.2 L322.2 149.4 L321.8 150.8 L320.3 151.8 L319.3 152.9 L318.1 154.2 L316.2 155.4 L315.0 156.5 L313.4 157.3 L312.0 158.8 L310.8 160.1 L309.2 161.5 L307.9 162.9 L306.1 163.6 L305.1 164.7 L304.2 165.7 L303.6 167.2 L302.4 168.5 L301.5 170.3 L299.9 172.1 L299.5 173.1 L297.7 174.8 L296.6 176.6 L296.7 178.1 L295.9 179.6 L295.4 181.2 L294.8 183.1 L294.6 185.5 L293.9 186.9 L294.0 189.0 L293.9 190.6 L292.2 190.2 L290.9 190.2 L289.6 190.4 L287.4 190.6 L286.1 188.8 L285.7 187.1 L285.7 185.2 L286.4 184.0 L286.6 181.8 L287.4 180.7 L288.0 179.6 L289.2 178.3 L289.6 176.3 L290.1 174.8 L288.6 173.5 L287.4 172.2 L286.4 170.9 L285.8 169.4 L284.8 168.7 L282.7 168.6 L281.6 168.8 L279.6 168.7 L278.4 169.3 L276.8 170.4 L276.1 171.3 L274.5 171.1 L272.9 171.6 L270.8 171.3 L268.7 170.7 L267.4 170.7 L265.9 171.0 L263.8 170.4 L262.3 170.4 L260.2 171.0 L258.5 171.3 L258.3 169.2 L258.3 167.6 L257.4 165.8 L257.3 164.1 L256.6 162.7Z"/>
<path id="s-Meghalaya" d="M258.5 171.3 L260.2 171.0 L262.3 170.4 L263.8 170.4 L265.9 171.0 L267.4 170.7 L268.7 170.7 L270.8 171.3 L272.9 171.6 L274.5 171.1 L276.1 171.3 L276.8 170.4 L278.4 169.3 L279.6 168.7 L281.6 168.8 L282.7 168.6 L284.8 168.7 L285.8 169.4 L286.4 170.9 L287.4 172.2 L288.6 173.5 L290.1 174.8 L289.6 176.3 L289.2 178.3 L287.4 178.9 L286.0 178.6 L284.8 179.2 L283.2 178.8 L281.6 179.2 L279.8 179.5 L277.8 179.2 L275.9 179.4 L274.0 179.8 L272.5 180.2 L270.8 180.1 L269.1 180.1 L267.4 179.8 L265.9 179.5 L263.8 179.2 L262.1 178.4 L261.1 178.2 L259.4 177.4 L258.6 175.2 L257.7 173.9 L258.4 172.8Z"/>
<path id="s-Arunachal" d="M275.2 147.7 L276.8 146.7 L277.8 146.5 L279.6 145.9 L281.2 145.3 L283.4 145.0 L284.8 145.0 L286.1 143.7 L287.9 142.9 L289.3 141.9 L290.1 140.7 L291.4 139.9 L292.7 138.1 L293.6 137.2 L295.3 136.3 L296.7 135.7 L298.0 134.8 L299.5 133.8 L300.6 132.8 L301.6 131.3 L302.3 130.4 L303.6 129.1 L305.1 128.0 L305.8 126.6 L307.3 126.9 L309.5 126.8 L311.1 127.5 L313.0 127.1 L314.8 126.2 L316.4 125.8 L318.0 124.6 L319.8 124.1 L321.3 123.5 L322.5 122.6 L323.8 124.2 L324.9 124.9 L326.0 126.6 L326.5 128.6 L327.1 130.0 L327.7 131.9 L329.2 133.0 L330.6 133.5 L332.1 134.5 L333.9 134.9 L335.3 135.4 L336.4 135.5 L338.2 136.3 L338.8 138.7 L338.8 140.1 L337.7 141.1 L336.2 142.4 L335.6 143.6 L334.5 145.7 L334.2 147.3 L335.0 148.2 L336.1 149.5 L337.0 150.6 L335.3 150.6 L333.5 149.9 L331.8 148.9 L330.6 147.8 L329.5 146.8 L328.0 148.6 L327.1 150.3 L326.3 151.7 L324.5 151.1 L323.6 150.8 L321.8 150.8 L322.2 149.4 L322.9 148.2 L323.4 146.8 L322.6 144.9 L322.7 142.9 L321.2 143.0 L319.0 142.6 L317.2 143.4 L315.8 144.6 L314.0 144.9 L312.5 145.9 L311.1 146.8 L309.4 147.5 L307.6 148.0 L306.6 148.5 L305.0 149.6 L303.3 150.6 L301.9 151.4 L300.2 152.2 L298.8 152.6 L297.3 152.9 L295.5 153.6 L293.6 154.8 L291.9 155.4 L290.1 155.2 L288.5 156.0 L286.3 155.8 L284.8 156.2 L282.9 156.8 L281.4 157.3 L279.2 157.0 L277.8 157.7 L277.4 156.3 L277.5 154.3 L276.9 152.9 L276.6 151.1 L275.5 149.4Z"/>
<path id="s-Nagaland" d="M321.8 150.8 L323.6 150.8 L324.5 151.1 L326.3 151.7 L325.2 153.4 L323.7 154.5 L322.4 156.1 L321.9 157.7 L320.9 158.8 L320.0 160.1 L319.1 162.0 L317.8 163.3 L317.1 164.6 L316.2 166.1 L315.2 167.8 L314.3 169.6 L312.6 170.9 L312.1 172.4 L310.6 172.8 L308.3 172.9 L306.9 173.4 L305.1 174.1 L303.0 174.1 L301.5 174.5 L300.0 174.4 L297.7 174.8 L299.5 173.1 L299.9 172.1 L301.5 170.3 L302.4 168.5 L303.6 167.2 L304.2 165.7 L305.1 164.7 L306.1 163.6 L307.9 162.9 L309.2 161.5 L310.8 160.1 L312.0 158.8 L313.4 157.3 L315.0 156.5 L316.2 155.4 L318.1 154.2 L319.3 152.9 L320.3 151.8Z"/>
<path id="s-Manipur" d="M297.7 174.8 L300.0 174.4 L301.5 174.5 L303.0 174.1 L305.1 174.1 L306.9 173.4 L308.3 172.9 L310.6 172.8 L312.1 172.4 L312.8 173.7 L312.3 175.0 L312.9 176.7 L312.9 178.4 L311.9 179.9 L312.0 181.8 L311.1 183.4 L311.1 185.0 L310.2 186.4 L309.6 188.6 L309.0 190.0 L307.8 191.2 L307.2 193.4 L305.2 193.0 L303.3 193.2 L301.6 193.1 L299.5 192.5 L297.9 192.4 L295.8 191.5 L293.9 190.6 L294.0 189.0 L293.9 186.9 L294.6 185.5 L294.8 183.1 L295.4 181.2 L295.9 179.6 L296.7 178.1 L296.6 176.6Z"/>
<path id="s-Mizoram" d="M287.4 190.6 L289.6 190.4 L290.9 190.2 L292.2 190.2 L293.9 190.6 L295.7 191.0 L297.6 191.9 L299.5 192.7 L299.4 194.2 L298.9 195.8 L299.2 197.9 L299.3 200.2 L298.8 201.6 L299.0 203.4 L298.7 205.5 L298.2 207.1 L297.5 209.3 L297.0 211.2 L296.7 212.8 L296.0 213.8 L295.2 215.4 L293.6 216.8 L293.1 218.3 L291.2 217.5 L290.2 216.5 L289.6 214.3 L289.8 212.7 L289.8 210.6 L289.4 209.2 L288.7 207.6 L288.5 205.7 L288.0 203.6 L287.4 201.6 L287.4 200.0 L286.8 198.2 L286.6 196.2 L287.1 194.0 L287.6 192.3Z"/>
<path id="s-Tripura" d="M285.7 187.1 L286.1 188.8 L287.4 190.6 L287.6 192.3 L287.1 194.0 L286.6 196.2 L286.0 197.2 L284.8 197.6 L283.9 198.8 L283.3 200.5 L282.0 201.6 L281.1 203.3 L280.2 204.5 L279.2 206.0 L277.7 205.4 L276.1 204.9 L275.3 203.0 L274.5 201.6 L274.4 200.5 L273.7 198.7 L273.6 197.6 L274.0 196.2 L275.2 195.1 L276.1 193.2 L278.0 192.4 L279.6 192.0 L280.7 191.3 L281.7 190.4 L282.7 189.2 L284.0 188.6Z"/>
<path id="s-Sund" d="M239.3 224.2 L240.4 222.0 L241.8 222.5 L242.7 219.8 L244.2 220.6 L245.2 218.1 L246.6 219.1 L247.7 217.2 L249.6 217.7 L250.6 219.8 L250.0 222.0 L251.2 225.0 L248.8 224.2 L247.4 225.3 L245.6 223.9 L243.7 225.1 L241.8 224.2Z"/>
<circle id="s-Delhi" cx="115.5" cy="138.7" r="1.8"/>
<g id="s-Islands"><path d="M303.2 320.2 L304.6 321.6 L304.4 324.5 L303.6 327.5 L304.2 331.0 L303.6 334.5 L304.4 338.0 L305.6 340.3 L304.2 341.2 L303.2 339.5 L302.8 343.5 L302.2 347.5 L301.4 351.0 L300.2 350.6 L299.8 347.5 L300.3 343.5 L300.0 339.5 L300.8 335.5 L300.4 331.5 L301.2 327.5 L301.6 323.5 L302.2 321.0Z"/><ellipse cx="299.3" cy="358.2" rx="1.2" ry="1.9"/><circle cx="304.1" cy="377.4" r=".7"/><circle cx="305.5" cy="381.5" r=".45"/><path d="M308 386.4 L309.8 388.6 L309.2 389 Z"/><path d="M313.9 388.6 L315.3 392 L312.2 392.2 Z"/><circle cx="315.3" cy="384.9" r=".4"/><path d="M317.2 399.5 L319 400.8 L320.6 404 L320.2 406.8 L318.6 406.4 L317.4 403.5 Z"/></g>
<g id="s-Dots"><circle cx="309.4" cy="304.9" r="0.4"/><circle cx="306.2" cy="315" r="0.5"/><circle cx="318.5" cy="321.8" r="0.4"/><circle cx="314.6" cy="336.7" r="0.4"/><circle cx="295.3" cy="347.4" r="0.5"/><circle cx="297" cy="354.5" r="0.3"/><circle cx="53.6" cy="346" r="0.4"/><circle cx="57.2" cy="348.7" r="0.35"/><circle cx="54.5" cy="351.4" r="0.35"/><circle cx="48.2" cy="355" r="0.35"/><circle cx="51.9" cy="359.5" r="0.4"/><circle cx="65.4" cy="356.9" r="0.4"/><circle cx="64.4" cy="365.8" r="0.45"/><circle cx="48.2" cy="365" r="0.35"/><circle cx="55.5" cy="388.4" r="0.45"/><circle cx="20.5" cy="362" r="0.3"/><rect x="139.4" y="345.4" width="1.9" height="2.1"/><rect x="140.1" y="358.1" width="1.3" height="1.5"/><circle cx="110.6" cy="318.4" r="1.1" fill="none" stroke-width=".5"/><circle cx="61.6" cy="254.8" r=".7"/><circle cx="64.2" cy="240.9" r=".55"/><circle cx="246.3" cy="166.3" r=".55"/><circle cx="243.8" cy="165.2" r=".4"/></g>
</defs>
<g transform="matrix(1 0 0 1 0 0)">
<g class="st">
<use href="#s-Ladakh" fill="#b4c7e7"/>
<use href="#s-JK" fill="#b4c7e7"/>
<use href="#s-HP" fill="#b4c7e7"/>
<use href="#s-Punjab" fill="#b4c7e7"/>
<use href="#s-Haryana" fill="#fee89c"/>
<use href="#s-UK" fill="#fee89c"/>
<use href="#s-Raj" fill="#ff8400"/>
<use href="#s-Gujarat" fill="#ff8400"/>
<use href="#s-UP" fill="#ff0000"/>
<use href="#s-MP" fill="#ff0000"/>
<use href="#s-Bihar" fill="#ff0000"/>
<use href="#s-Jharkhand" fill="#ff0000"/>
<use href="#s-Chh" fill="#ff0000"/>
<use href="#s-Odisha" fill="#ff0000"/>
<use href="#s-WB" fill="#fee89c"/>
<use href="#s-Sikkim" fill="#b4c7e7"/>
<use href="#s-Assam" fill="#ff8400"/>
<use href="#s-Meghalaya" fill="#ff8400"/>
<use href="#s-Arunachal" fill="#fee89c"/>
<use href="#s-Nagaland" fill="#fee89c"/>
<use href="#s-Manipur" fill="#fee89c"/>
<use href="#s-Mizoram" fill="#fee89c"/>
<use href="#s-Tripura" fill="#fee89c"/>
<use href="#s-Mah" fill="#b4c7e7"/>
<use href="#s-Goa" fill="#8eaadb"/>
<use href="#s-Kar" fill="#fee89c"/>
<use href="#s-Tel" fill="#fee89c"/>
<use href="#s-AP" fill="#fee89c"/>
<use href="#s-TN" fill="#b4c7e7"/>
<use href="#s-Kerala" fill="#8eaadb"/>
<use href="#s-Delhi" fill="#b4c7e7"/>
<use href="#s-Islands" fill="#8a8a8a" stroke="#111" stroke-width=".75"/>
<use href="#s-Sund" fill="#1a1a1a"/><use href="#s-Dots" fill="#222" stroke-width=".3"/>
</g>
<text class="lb" x="114.9" y="62.5" text-anchor="middle">Ladakh</text>
<text class="lb" x="74.5" y="73.7" text-anchor="middle">Jammu and Kashmir</text>
<text class="lb" x="132.2" y="99.4" text-anchor="middle">Himachal Pradesh</text>
<text class="lb" x="99" y="113.5" text-anchor="middle">Punjab</text>
<text class="lb" x="144.6" y="119.3" text-anchor="middle">Uttarakhand</text>
<text class="lb" x="109.8" y="133.3" text-anchor="middle">Haryana</text>
<text class="lb" x="125" y="143.4" text-anchor="middle">Delhi</text>
<text class="lb" x="78" y="164.2" text-anchor="middle">Rajasthan</text>
<text class="lb" x="160.9" y="163.7" text-anchor="middle">Uttar Pradesh</text>
<text class="lb" x="209.5" y="177.9" text-anchor="middle">Bihar</text>
<text class="lb" x="49.3" y="205.0" text-anchor="middle">Gujarat</text>
<text class="lb" x="127" y="203.8" text-anchor="middle">Madhya Pradesh</text>
<text class="lb" x="204.6" y="200.6" text-anchor="middle">Jharkhand</text>
<text class="lb" x="243.2" y="208.1" text-anchor="middle">West Bengal</text>
<text class="lb" x="176.2" y="223.4" text-anchor="middle">Chhattisgarh</text>
<text class="lb" x="197.2" y="241.8" text-anchor="middle">Odisha</text>
<text class="lb" x="91.9" y="253.6" text-anchor="middle">Maharashtra</text>
<text class="lb" x="133.4" y="274.8" text-anchor="middle">Telangana</text>
<text class="lb" x="65" y="304.3" text-anchor="middle">Goa</text>
<text class="lb" x="136.9" y="310.7" text-anchor="middle">Andhra Pradesh</text>
<text class="lb" x="92.3" y="316.5" text-anchor="middle">Karnataka</text>
<text class="lb" x="92.8" y="362.6" text-anchor="middle">Kerala</text>
<text class="lb" x="123.5" y="359.6" text-anchor="middle">Tamil Nadu</text>
<text class="lb" x="240.1" y="153.8" text-anchor="middle">Sikkim</text>
<text class="lb" x="291.4" y="139.8" text-anchor="middle">Arunachal Pradesh</text>
<text class="lb" x="290" y="165.7" text-anchor="middle">Assam</text>
<text class="lb" x="320.7" y="164.3" text-anchor="middle">Nagaland</text>
<text class="lb" x="273.6" y="177.4" text-anchor="middle">Meghalaya</text>
<text class="lb" x="314.1" y="181.5" text-anchor="middle">Manipur</text>
<text class="lb" x="273" y="194.9" text-anchor="middle">Tripura</text>
<text class="lb" x="303.6" y="199.3" text-anchor="middle">Mizoram</text>
</g>
<g transform="matrix(0.97 0 0 0.969 354.7 5.5)">
<g class="st">
<use href="#s-Ladakh" fill="#b4c7e7"/>
<use href="#s-JK" fill="#b4c7e7"/>
<use href="#s-HP" fill="#b4c7e7"/>
<use href="#s-Punjab" fill="#8eaadb"/>
<use href="#s-Haryana" fill="#b4c7e7"/>
<use href="#s-UK" fill="#ff8400"/>
<use href="#s-Raj" fill="#ff8400"/>
<use href="#s-Gujarat" fill="#fee89c"/>
<use href="#s-UP" fill="#ff0000"/>
<use href="#s-MP" fill="#ff8400"/>
<use href="#s-Bihar" fill="#ff8400"/>
<use href="#s-Jharkhand" fill="#fee89c"/>
<use href="#s-Chh" fill="#ff0000"/>
<use href="#s-Odisha" fill="#ff0000"/>
<use href="#s-WB" fill="#b4c7e7"/>
<use href="#s-Sikkim" fill="#fee89c"/>
<use href="#s-Assam" fill="#ff8400"/>
<use href="#s-Meghalaya" fill="#ff8400"/>
<use href="#s-Arunachal" fill="#fee89c"/>
<use href="#s-Nagaland" fill="#fee89c"/>
<use href="#s-Manipur" fill="#fee89c"/>
<use href="#s-Mizoram" fill="#b4c7e7"/>
<use href="#s-Tripura" fill="#b4c7e7"/>
<use href="#s-Mah" fill="#b4c7e7"/>
<use href="#s-Goa" fill="#8eaadb"/>
<use href="#s-Kar" fill="#b4c7e7"/>
<use href="#s-Tel" fill="#b4c7e7"/>
<use href="#s-AP" fill="#b4c7e7"/>
<use href="#s-TN" fill="#b4c7e7"/>
<use href="#s-Kerala" fill="#8eaadb"/>
<use href="#s-Delhi" fill="#b4c7e7"/>
<use href="#s-Islands" fill="#8a8a8a" stroke="#111" stroke-width=".75"/>
<use href="#s-Sund" fill="#1a1a1a"/><use href="#s-Dots" fill="#222" stroke-width=".3"/>
</g>
<text class="lb" x="114.9" y="62.5" text-anchor="middle">Ladakh</text>
<text class="lb" x="74.5" y="73.7" text-anchor="middle">Jammu and Kashmir</text>
<text class="lb" x="132.2" y="99.4" text-anchor="middle">Himachal Pradesh</text>
<text class="lb" x="99" y="113.5" text-anchor="middle">Punjab</text>
<text class="lb" x="144.6" y="119.3" text-anchor="middle">Uttarakhand</text>
<text class="lb" x="109.8" y="133.3" text-anchor="middle">Haryana</text>
<text class="lb" x="125" y="143.4" text-anchor="middle">Delhi</text>
<text class="lb" x="78" y="164.2" text-anchor="middle">Rajasthan</text>
<text class="lb" x="160.9" y="163.7" text-anchor="middle">Uttar Pradesh</text>
<text class="lb" x="209.5" y="177.9" text-anchor="middle">Bihar</text>
<text class="lb" x="49.3" y="205.0" text-anchor="middle">Gujarat</text>
<text class="lb" x="127" y="203.8" text-anchor="middle">Madhya Pradesh</text>
<text class="lb" x="204.6" y="200.6" text-anchor="middle">Jharkhand</text>
<text class="lb" x="243.2" y="208.1" text-anchor="middle">West Bengal</text>
<text class="lb" x="176.2" y="223.4" text-anchor="middle">Chhattisgarh</text>
<text class="lb" x="197.2" y="241.8" text-anchor="middle">Odisha</text>
<text class="lb" x="91.9" y="253.6" text-anchor="middle">Maharashtra</text>
<text class="lb" x="133.4" y="274.8" text-anchor="middle">Telangana</text>
<text class="lb" x="65" y="304.3" text-anchor="middle">Goa</text>
<text class="lb" x="136.9" y="310.7" text-anchor="middle">Andhra Pradesh</text>
<text class="lb" x="92.3" y="316.5" text-anchor="middle">Karnataka</text>
<text class="lb" x="92.8" y="362.6" text-anchor="middle">Kerala</text>
<text class="lb" x="123.5" y="359.6" text-anchor="middle">Tamil Nadu</text>
<text class="lb" x="240.1" y="153.8" text-anchor="middle">Sikkim</text>
<text class="lb" x="291.4" y="139.8" text-anchor="middle">Arunachal Pradesh</text>
<text class="lb" x="290" y="165.7" text-anchor="middle">Assam</text>
<text class="lb" x="320.7" y="164.3" text-anchor="middle">Nagaland</text>
<text class="lb" x="273.6" y="177.4" text-anchor="middle">Meghalaya</text>
<text class="lb" x="314.1" y="181.5" text-anchor="middle">Manipur</text>
<text class="lb" x="273" y="194.9" text-anchor="middle">Tripura</text>
<text class="lb" x="303.6" y="199.3" text-anchor="middle">Mizoram</text>
</g>
<g transform="matrix(0.953 0 0 0.9485 9.2 436.6)">
<g class="st">
<use href="#s-Ladakh" fill="#fee89c"/>
<use href="#s-JK" fill="#fee89c"/>
<use href="#s-HP" fill="#b4c7e7"/>
<use href="#s-Punjab" fill="#fee89c"/>
<use href="#s-Haryana" fill="#fee89c"/>
<use href="#s-UK" fill="#fee89c"/>
<use href="#s-Raj" fill="#b4c7e7"/>
<use href="#s-Gujarat" fill="#fee89c"/>
<use href="#s-UP" fill="#fee89c"/>
<use href="#s-MP" fill="#b4c7e7"/>
<use href="#s-Bihar" fill="#b4c7e7"/>
<use href="#s-Jharkhand" fill="#fee89c"/>
<use href="#s-Chh" fill="#fee89c"/>
<use href="#s-Odisha" fill="#b4c7e7"/>
<use href="#s-WB" fill="#fee89c"/>
<use href="#s-Sikkim" fill="#b4c7e7"/>
<use href="#s-Assam" fill="#fee89c"/>
<use href="#s-Meghalaya" fill="#b4c7e7"/>
<use href="#s-Arunachal" fill="#b4c7e7"/>
<use href="#s-Nagaland" fill="#fee89c"/>
<use href="#s-Manipur" fill="#b4c7e7"/>
<use href="#s-Mizoram" fill="#b4c7e7"/>
<use href="#s-Tripura" fill="#fee89c"/>
<use href="#s-Mah" fill="#fee89c"/>
<use href="#s-Goa" fill="#b4c7e7"/>
<use href="#s-Kar" fill="#ff8400"/>
<use href="#s-Tel" fill="#b4c7e7"/>
<use href="#s-AP" fill="#fee89c"/>
<use href="#s-TN" fill="#fee89c"/>
<use href="#s-Kerala" fill="#8eaadb"/>
<use href="#s-Delhi" fill="#b4c7e7"/>
<use href="#s-Islands" fill="#8a8a8a" stroke="#111" stroke-width=".75"/>
<use href="#s-Sund" fill="#1a1a1a"/><use href="#s-Dots" fill="#222" stroke-width=".3"/>
</g>
<text class="lb" x="114.9" y="62.5" text-anchor="middle">Ladakh</text>
<text class="lb" x="74.5" y="73.7" text-anchor="middle">Jammu and Kashmir</text>
<text class="lb" x="132.2" y="99.4" text-anchor="middle">Himachal Pradesh</text>
<text class="lb" x="99" y="113.5" text-anchor="middle">Punjab</text>
<text class="lb" x="144.6" y="119.3" text-anchor="middle">Uttarakhand</text>
<text class="lb" x="109.8" y="133.3" text-anchor="middle">Haryana</text>
<text class="lb" x="125" y="143.4" text-anchor="middle">Delhi</text>
<text class="lb" x="78" y="164.2" text-anchor="middle">Rajasthan</text>
<text class="lb" x="160.9" y="163.7" text-anchor="middle">Uttar Pradesh</text>
<text class="lb" x="209.5" y="177.9" text-anchor="middle">Bihar</text>
<text class="lb" x="49.3" y="205.0" text-anchor="middle">Gujarat</text>
<text class="lb" x="127" y="203.8" text-anchor="middle">Madhya Pradesh</text>
<text class="lb" x="204.6" y="200.6" text-anchor="middle">Jharkhand</text>
<text class="lb" x="243.2" y="208.1" text-anchor="middle">West Bengal</text>
<text class="lb" x="176.2" y="223.4" text-anchor="middle">Chhattisgarh</text>
<text class="lb" x="197.2" y="241.8" text-anchor="middle">Odisha</text>
<text class="lb" x="91.9" y="253.6" text-anchor="middle">Maharashtra</text>
<text class="lb" x="133.4" y="274.8" text-anchor="middle">Telangana</text>
<text class="lb" x="65" y="304.3" text-anchor="middle">Goa</text>
<text class="lb" x="136.9" y="310.7" text-anchor="middle">Andhra Pradesh</text>
<text class="lb" x="92.3" y="316.5" text-anchor="middle">Karnataka</text>
<text class="lb" x="92.8" y="362.6" text-anchor="middle">Kerala</text>
<text class="lb" x="123.5" y="359.6" text-anchor="middle">Tamil Nadu</text>
<text class="lb" x="240.1" y="153.8" text-anchor="middle">Sikkim</text>
<text class="lb" x="291.4" y="139.8" text-anchor="middle">Arunachal Pradesh</text>
<text class="lb" x="290" y="165.7" text-anchor="middle">Assam</text>
<text class="lb" x="320.7" y="164.3" text-anchor="middle">Nagaland</text>
<text class="lb" x="273.6" y="177.4" text-anchor="middle">Meghalaya</text>
<text class="lb" x="314.1" y="181.5" text-anchor="middle">Manipur</text>
<text class="lb" x="273" y="194.9" text-anchor="middle">Tripura</text>
<text class="lb" x="303.6" y="199.3" text-anchor="middle">Mizoram</text>
</g>
<g transform="matrix(0.953 0 0 0.9485 338.9 438.4)">
<g class="st">
<use href="#s-Ladakh" fill="#ff8400"/>
<use href="#s-JK" fill="#ff8400"/>
<use href="#s-HP" fill="#ff0000"/>
<use href="#s-Punjab" fill="#b4c7e7"/>
<use href="#s-Haryana" fill="#fee89c"/>
<use href="#s-UK" fill="#ff0000"/>
<use href="#s-Raj" fill="#ff0000"/>
<use href="#s-Gujarat" fill="#ff8400"/>
<use href="#s-UP" fill="#ff0000"/>
<use href="#s-MP" fill="#ff8400"/>
<use href="#s-Bihar" fill="#fee89c"/>
<use href="#s-Jharkhand" fill="#8eaadb"/>
<use href="#s-Chh" fill="#ff0000"/>
<use href="#s-Odisha" fill="#b4c7e7"/>
<use href="#s-WB" fill="#fee89c"/>
<use href="#s-Sikkim" fill="#fee89c"/>
<use href="#s-Assam" fill="#ff0000"/>
<use href="#s-Meghalaya" fill="#ff8400"/>
<use href="#s-Arunachal" fill="#ff8400"/>
<use href="#s-Nagaland" fill="#ff8400"/>
<use href="#s-Manipur" fill="#ff8400"/>
<use href="#s-Mizoram" fill="#ff8400"/>
<use href="#s-Tripura" fill="#ff0000"/>
<use href="#s-Mah" fill="#fee89c"/>
<use href="#s-Goa" fill="#fee89c"/>
<use href="#s-Kar" fill="#ff0000"/>
<use href="#s-Tel" fill="#fee89c"/>
<use href="#s-AP" fill="#fee89c"/>
<use href="#s-TN" fill="#ff8400"/>
<use href="#s-Kerala" fill="#fee89c"/>
<use href="#s-Delhi" fill="#fee89c"/>
<use href="#s-Islands" fill="#ff8400" stroke="#111" stroke-width=".75"/>
<use href="#s-Sund" fill="#1a1a1a"/><use href="#s-Dots" fill="#222" stroke-width=".3"/>
</g>
<text class="lb" x="114.9" y="63.4" text-anchor="middle">Ladakh</text>
<text class="lb" x="74.5" y="74.6" text-anchor="middle">Jammu and Kashmir</text>
<text class="lb" x="132.2" y="100.3" text-anchor="middle">Himachal Pradesh</text>
<text class="lb" x="99" y="114.4" text-anchor="middle">Punjab</text>
<text class="lb" x="144.6" y="120.2" text-anchor="middle">Uttarakhand</text>
<text class="lb" x="109.8" y="134.2" text-anchor="middle">Haryana</text>
<text class="lb" x="125" y="144.3" text-anchor="middle">Delhi</text>
<text class="lb" x="78" y="165.1" text-anchor="middle">Rajasthan</text>
<text class="lb" x="160.9" y="164.6" text-anchor="middle">Uttar Pradesh</text>
<text class="lb" x="209.5" y="178.8" text-anchor="middle">Bihar</text>
<text class="lb" x="49.3" y="205.9" text-anchor="middle">Gujarat</text>
<text class="lb" x="127" y="204.7" text-anchor="middle">Madhya Pradesh</text>
<text class="lb" x="204.6" y="201.5" text-anchor="middle">Jharkhand</text>
<text class="lb" x="243.2" y="209.0" text-anchor="middle">West Bengal</text>
<text class="lb" x="176.2" y="224.3" text-anchor="middle">Chhattisgarh</text>
<text class="lb" x="197.2" y="242.7" text-anchor="middle">Odisha</text>
<text class="lb" x="91.9" y="254.5" text-anchor="middle">Maharashtra</text>
<text class="lb" x="133.4" y="275.7" text-anchor="middle">Telangana</text>
<text class="lb" x="65" y="305.2" text-anchor="middle">Goa</text>
<text class="lb" x="136.9" y="311.6" text-anchor="middle">Andhra Pradesh</text>
<text class="lb" x="92.3" y="317.4" text-anchor="middle">Karnataka</text>
<text class="lb" x="92.8" y="363.5" text-anchor="middle">Kerala</text>
<text class="lb" x="123.5" y="360.5" text-anchor="middle">Tamil Nadu</text>
<text class="lb" x="240.1" y="154.7" text-anchor="middle">Sikkim</text>
<text class="lb" x="291.4" y="140.7" text-anchor="middle">Arunachal Pradesh</text>
<text class="lb" x="290" y="166.6" text-anchor="middle">Assam</text>
<text class="lb" x="320.7" y="165.2" text-anchor="middle">Nagaland</text>
<text class="lb" x="273.6" y="178.3" text-anchor="middle">Meghalaya</text>
<text class="lb" x="314.1" y="182.4" text-anchor="middle">Manipur</text>
<text class="lb" x="273" y="195.8" text-anchor="middle">Tripura</text>
<text class="lb" x="303.6" y="200.2" text-anchor="middle">Mizoram</text>
</g>
<g transform="matrix(0.9455 0 0 0.946 -3.4 855.6)">
<g class="st">
<use href="#s-Ladakh" fill="#b4c7e7"/>
<use href="#s-JK" fill="#b4c7e7"/>
<use href="#s-HP" fill="#b4c7e7"/>
<use href="#s-Punjab" fill="#fee89c"/>
<use href="#s-Haryana" fill="#fee89c"/>
<use href="#s-UK" fill="#ff0000"/>
<use href="#s-Raj" fill="#b4c7e7"/>
<use href="#s-Gujarat" fill="#ff8400"/>
<use href="#s-UP" fill="#ff8400"/>
<use href="#s-MP" fill="#fee89c"/>
<use href="#s-Bihar" fill="#fee89c"/>
<use href="#s-Jharkhand" fill="#ff8400"/>
<use href="#s-Chh" fill="#ff8400"/>
<use href="#s-Odisha" fill="#ff8400"/>
<use href="#s-WB" fill="#b4c7e7"/>
<use href="#s-Sikkim" fill="#b4c7e7"/>
<use href="#s-Assam" fill="#b4c7e7"/>
<use href="#s-Meghalaya" fill="#8eaadb"/>
<use href="#s-Arunachal" fill="#fee89c"/>
<use href="#s-Nagaland" fill="#b4c7e7"/>
<use href="#s-Manipur" fill="#b4c7e7"/>
<use href="#s-Mizoram" fill="#b4c7e7"/>
<use href="#s-Tripura" fill="#8eaadb"/>
<use href="#s-Mah" fill="#fee89c"/>
<use href="#s-Goa" fill="#fee89c"/>
<use href="#s-Kar" fill="#ff8400"/>
<use href="#s-Tel" fill="#ff8400"/>
<use href="#s-AP" fill="#ff8400"/>
<use href="#s-TN" fill="#ff0000"/>
<use href="#s-Kerala" fill="#b4c7e7"/>
<use href="#s-Delhi" fill="#b4c7e7"/>
<use href="#s-Islands" fill="#ff0000" stroke="#111" stroke-width=".75"/>
<use href="#s-Sund" fill="#1a1a1a"/><use href="#s-Dots" fill="#222" stroke-width=".3"/>
</g>
<text class="lb" x="114.9" y="63.0" text-anchor="middle">Ladakh</text>
<text class="lb" x="74.5" y="74.2" text-anchor="middle">Jammu and Kashmir</text>
<text class="lb" x="132.2" y="99.9" text-anchor="middle">Himachal Pradesh</text>
<text class="lb" x="99" y="114.0" text-anchor="middle">Punjab</text>
<text class="lb" x="144.6" y="119.8" text-anchor="middle">Uttarakhand</text>
<text class="lb" x="109.8" y="133.8" text-anchor="middle">Haryana</text>
<text class="lb" x="125" y="143.9" text-anchor="middle">Delhi</text>
<text class="lb" x="78" y="164.7" text-anchor="middle">Rajasthan</text>
<text class="lb" x="160.9" y="164.2" text-anchor="middle">Uttar Pradesh</text>
<text class="lb" x="209.5" y="178.4" text-anchor="middle">Bihar</text>
<text class="lb" x="49.3" y="205.5" text-anchor="middle">Gujarat</text>
<text class="lb" x="127" y="204.3" text-anchor="middle">Madhya Pradesh</text>
<text class="lb" x="204.6" y="201.1" text-anchor="middle">Jharkhand</text>
<text class="lb" x="243.2" y="208.6" text-anchor="middle">West Bengal</text>
<text class="lb" x="176.2" y="223.9" text-anchor="middle">Chhattisgarh</text>
<text class="lb" x="197.2" y="242.3" text-anchor="middle">Odisha</text>
<text class="lb" x="91.9" y="254.1" text-anchor="middle">Maharashtra</text>
<text class="lb" x="133.4" y="275.3" text-anchor="middle">Telangana</text>
<text class="lb" x="65" y="304.8" text-anchor="middle">Goa</text>
<text class="lb" x="136.9" y="311.2" text-anchor="middle">Andhra Pradesh</text>
<text class="lb" x="92.3" y="317.0" text-anchor="middle">Karnataka</text>
<text class="lb" x="92.8" y="363.1" text-anchor="middle">Kerala</text>
<text class="lb" x="123.5" y="360.1" text-anchor="middle">Tamil Nadu</text>
<text class="lb" x="240.1" y="154.3" text-anchor="middle">Sikkim</text>
<text class="lb" x="291.4" y="140.3" text-anchor="middle">Arunachal Pradesh</text>
<text class="lb" x="290" y="166.2" text-anchor="middle">Assam</text>
<text class="lb" x="320.7" y="164.8" text-anchor="middle">Nagaland</text>
<text class="lb" x="273.6" y="177.9" text-anchor="middle">Meghalaya</text>
<text class="lb" x="314.1" y="182.0" text-anchor="middle">Manipur</text>
<text class="lb" x="273" y="195.4" text-anchor="middle">Tripura</text>
<text class="lb" x="303.6" y="199.8" text-anchor="middle">Mizoram</text>
</g>
<g transform="matrix(0.9455 0 0 0.946 342.1 857.3)">
<g class="st">
<use href="#s-Ladakh" fill="#ff8400"/>
<use href="#s-JK" fill="#ff8400"/>
<use href="#s-HP" fill="#ff0000"/>
<use href="#s-Punjab" fill="#fee89c"/>
<use href="#s-Haryana" fill="#fee89c"/>
<use href="#s-UK" fill="#ff0000"/>
<use href="#s-Raj" fill="#ff8400"/>
<use href="#s-Gujarat" fill="#fee89c"/>
<use href="#s-UP" fill="#ff0000"/>
<use href="#s-MP" fill="#ff8400"/>
<use href="#s-Bihar" fill="#fee89c"/>
<use href="#s-Jharkhand" fill="#fee89c"/>
<use href="#s-Chh" fill="#ff0000"/>
<use href="#s-Odisha" fill="#ff8400"/>
<use href="#s-WB" fill="#b4c7e7"/>
<use href="#s-Sikkim" fill="#ff8400"/>
<use href="#s-Assam" fill="#fee89c"/>
<use href="#s-Meghalaya" fill="#fee89c"/>
<use href="#s-Arunachal" fill="#ff8400"/>
<use href="#s-Nagaland" fill="#ff8400"/>
<use href="#s-Manipur" fill="#ff8400"/>
<use href="#s-Mizoram" fill="#fee89c"/>
<use href="#s-Tripura" fill="#fee89c"/>
<use href="#s-Mah" fill="#fee89c"/>
<use href="#s-Goa" fill="#fee89c"/>
<use href="#s-Kar" fill="#ff8400"/>
<use href="#s-Tel" fill="#ff8400"/>
<use href="#s-AP" fill="#ff8400"/>
<use href="#s-TN" fill="#ff0000"/>
<use href="#s-Kerala" fill="#ff8400"/>
<use href="#s-Delhi" fill="#b4c7e7"/>
<use href="#s-Islands" fill="#ff8400" stroke="#111" stroke-width=".75"/>
<use href="#s-Sund" fill="#1a1a1a"/><use href="#s-Dots" fill="#222" stroke-width=".3"/>
</g>
<text class="lb" x="114.9" y="63.8" text-anchor="middle">Ladakh</text>
<text class="lb" x="74.5" y="75.0" text-anchor="middle">Jammu and Kashmir</text>
<text class="lb" x="132.2" y="100.7" text-anchor="middle">Himachal Pradesh</text>
<text class="lb" x="99" y="114.8" text-anchor="middle">Punjab</text>
<text class="lb" x="144.6" y="120.6" text-anchor="middle">Uttarakhand</text>
<text class="lb" x="109.8" y="134.6" text-anchor="middle">Haryana</text>
<text class="lb" x="125" y="144.7" text-anchor="middle">Delhi</text>
<text class="lb" x="78" y="165.5" text-anchor="middle">Rajasthan</text>
<text class="lb" x="160.9" y="165.0" text-anchor="middle">Uttar Pradesh</text>
<text class="lb" x="209.5" y="179.2" text-anchor="middle">Bihar</text>
<text class="lb" x="49.3" y="206.3" text-anchor="middle">Gujarat</text>
<text class="lb" x="127" y="205.1" text-anchor="middle">Madhya Pradesh</text>
<text class="lb" x="204.6" y="201.9" text-anchor="middle">Jharkhand</text>
<text class="lb" x="243.2" y="209.4" text-anchor="middle">West Bengal</text>
<text class="lb" x="176.2" y="224.7" text-anchor="middle">Chhattisgarh</text>
<text class="lb" x="197.2" y="243.1" text-anchor="middle">Odisha</text>
<text class="lb" x="91.9" y="254.9" text-anchor="middle">Maharashtra</text>
<text class="lb" x="133.4" y="276.1" text-anchor="middle">Telangana</text>
<text class="lb" x="65" y="305.6" text-anchor="middle">Goa</text>
<text class="lb" x="136.9" y="312.0" text-anchor="middle">Andhra Pradesh</text>
<text class="lb" x="92.3" y="317.8" text-anchor="middle">Karnataka</text>
<text class="lb" x="92.8" y="363.9" text-anchor="middle">Kerala</text>
<text class="lb" x="123.5" y="360.9" text-anchor="middle">Tamil Nadu</text>
<text class="lb" x="240.1" y="155.1" text-anchor="middle">Sikkim</text>
<text class="lb" x="291.4" y="141.1" text-anchor="middle">Arunachal Pradesh</text>
<text class="lb" x="290" y="167.0" text-anchor="middle">Assam</text>
<text class="lb" x="320.7" y="165.6" text-anchor="middle">Nagaland</text>
<text class="lb" x="273.6" y="178.7" text-anchor="middle">Meghalaya</text>
<text class="lb" x="314.1" y="182.8" text-anchor="middle">Manipur</text>
<text class="lb" x="273" y="196.2" text-anchor="middle">Tripura</text>
<text class="lb" x="303.6" y="200.6" text-anchor="middle">Mizoram</text>
</g>
<text x="-0.8" y="8.4" style="font-family:'Liberation Serif',serif;font-weight:700;font-size:10.5px">a)</text>
<text class="hd" x="17.5" y="8.4" textLength="40.5" lengthAdjust="spacingAndGlyphs">CMNNDs</text>
<text class="hd" x="-0.5" y="441.7">b)</text>
<text class="hd" x="17.5" y="441.7" textLength="23.6" lengthAdjust="spacingAndGlyphs">NCDs</text>
<text class="hd" x="-0.5" y="855.5">c)</text>
<text class="hd" x="17.8" y="855.5" textLength="35.9" lengthAdjust="spacingAndGlyphs">Injuries</text>
<text class="tt" x="183.8" y="45.4" textLength="41.3" lengthAdjust="spacingAndGlyphs">Females</text>
<text class="tt" x="567.5" y="54" textLength="30" lengthAdjust="spacingAndGlyphs">Males</text>
<text class="tt" x="184.6" y="480.8" textLength="39.7" lengthAdjust="spacingAndGlyphs" style="font-size:10px">Females</text>
<text class="tt" x="549.6" y="489.3" textLength="28.5" lengthAdjust="spacingAndGlyphs" style="font-size:10px">Males</text>
<text class="tt" x="164" y="901.6" textLength="39.7" lengthAdjust="spacingAndGlyphs" style="font-size:10px">Females</text>
<text class="tt" x="526.9" y="910.2" textLength="28.7" lengthAdjust="spacingAndGlyphs" style="font-size:10px">Males</text>
<text class="lg" x="529.2" y="305.2" textLength="97.8" lengthAdjust="spacingAndGlyphs">DALY rate per 100,000</text>
<rect x="527.3" y="314.1" width="16.7" height="15.0" fill="#ff0000"/>
<rect x="527.3" y="328.9" width="16.7" height="15.4" fill="#ff8400"/>
<rect x="527.3" y="344.1" width="16.7" height="15.0" fill="#fee89c"/>
<rect x="527.3" y="358.9" width="16.7" height="14.8" fill="#b4c7e7"/>
<rect x="527.3" y="373.5" width="16.7" height="15.4" fill="#8eaadb"/>
<text class="lg" x="546.3" y="326.1" textLength="66.8" lengthAdjust="spacingAndGlyphs">18,500 or more</text>
<text class="lg" x="546.3" y="340.9" textLength="66.8" lengthAdjust="spacingAndGlyphs">15,000 - 18,499</text>
<text class="lg" x="546.3" y="355.5" textLength="66.8" lengthAdjust="spacingAndGlyphs">11,500 - 14,999</text>
<text class="lg" x="546.3" y="370.7" textLength="61.7" lengthAdjust="spacingAndGlyphs">8,000 - 11,499</text>
<text class="lg" x="546.3" y="385.5" textLength="66.8" lengthAdjust="spacingAndGlyphs">Less than 8,000</text>
<text class="lg" x="498.3" y="727.5" textLength="93" lengthAdjust="spacingAndGlyphs">DALY rate per 100,000</text>
<rect x="496.4" y="736.2" width="16.5" height="14.2" fill="#ff0000"/>
<rect x="496.4" y="750.2" width="16.5" height="14.5" fill="#ff8400"/>
<rect x="496.4" y="764.5" width="16.5" height="14.4" fill="#fee89c"/>
<rect x="496.4" y="778.7" width="16.5" height="14.1" fill="#b4c7e7"/>
<rect x="496.4" y="792.6" width="16.5" height="14.4" fill="#8eaadb"/>
<text class="lg" x="514.4" y="747" textLength="64.5" lengthAdjust="spacingAndGlyphs">90,000 or more</text>
<text class="lg" x="514.4" y="761.2" textLength="64.5" lengthAdjust="spacingAndGlyphs">80,000 - 89,999</text>
<text class="lg" x="514.4" y="775.1" textLength="64.5" lengthAdjust="spacingAndGlyphs">70,000 - 79,999</text>
<text class="lg" x="514.4" y="789.3" textLength="64.5" lengthAdjust="spacingAndGlyphs">60,000 - 69,999</text>
<text class="lg" x="514.4" y="803.6" textLength="69.3" lengthAdjust="spacingAndGlyphs">Less than 60,000</text>
<text class="lg" x="499.8" y="1149.7" textLength="92.4" lengthAdjust="spacingAndGlyphs">DALY rate per 100,000</text>
<rect x="497.9" y="1158.5" width="16.1" height="14.2" fill="#ff0000"/>
<rect x="497.9" y="1172.5" width="16.1" height="14.3" fill="#ff8400"/>
<rect x="497.9" y="1186.6" width="16.1" height="14.4" fill="#fee89c"/>
<rect x="497.9" y="1200.8" width="16.1" height="14.2" fill="#b4c7e7"/>
<rect x="497.9" y="1214.8" width="16.1" height="14.1" fill="#8eaadb"/>
<text class="lg" x="515.7" y="1169.5" textLength="58.1" lengthAdjust="spacingAndGlyphs">8,000 or more</text>
<text class="lg" x="515.7" y="1183.5" textLength="53.7" lengthAdjust="spacingAndGlyphs">7,000 - 7,999</text>
<text class="lg" x="515.7" y="1197.8" textLength="53.7" lengthAdjust="spacingAndGlyphs">6,000 - 6,999</text>
<text class="lg" x="515.7" y="1211.6" textLength="53.7" lengthAdjust="spacingAndGlyphs">5,000 - 5,999</text>
<text class="lg" x="515.7" y="1225.8" textLength="64.1" lengthAdjust="spacingAndGlyphs">Less than 5,000</text>
</svg></body></html>
